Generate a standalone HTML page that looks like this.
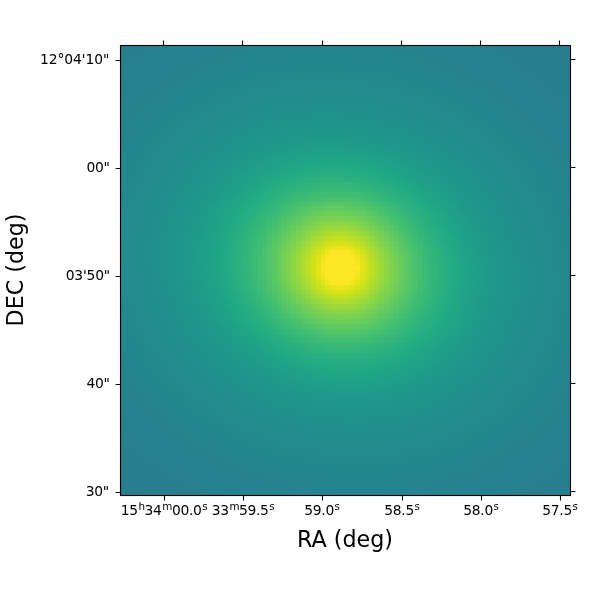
<!DOCTYPE html>
<html lang="en"><head><meta charset="utf-8"><title>RA / DEC image</title>
<style>
html,body{margin:0;padding:0;background:#fff;}
body{width:600px;height:600px;overflow:hidden;}
svg{display:block;}
text{font-family:"DejaVu Sans","Liberation Sans",sans-serif;fill:#000;}
.sup{font-size:10.4px;letter-spacing:0;}
</style></head><body>
<svg width="600" height="600" viewBox="0 0 600 600">
<rect width="600" height="600" fill="#fff"/>
<rect x="120" y="45" width="450" height="450" fill="#26818e"/>
<g transform="translate(120 45)" shape-rendering="crispEdges">
<path fill="#287d8e" d="M426 0h24v5h-24zM435 5h15v5h-15zM440 10h10v5h-10zM445 15h5v5h-5zM0 435h5v5h-5zM0 440h15v5h-15zM0 445h20v5h-20z"/>
<path fill="#277e8e" d="M401 0h25v5h-25zM411 5h24v5h-24zM416 10h24v5h-24zM421 15h24v5h-24zM430 20h20v4h-20zM435 24h15v5h-15zM440 29h10v5h-10zM445 34h5v5h-5zM0 416h5v5h-5zM0 421h10v5h-10zM0 426h20v4h-20zM0 430h24v5h-24zM5 435h24v5h-24zM15 440h24v5h-24zM440 440h10v5h-10zM20 445h24v5h-24zM435 445h15v5h-15z"/>
<path fill="#277f8e" d="M0 0h24v5h-24zM377 0h24v5h-24zM0 5h15v5h-15zM386 5h25v5h-25zM0 10h10v5h-10zM391 10h25v5h-25zM401 15h20v5h-20zM406 20h24v4h-24zM416 24h19v5h-19zM421 29h19v5h-19zM426 34h19v5h-19zM430 39h20v5h-20zM435 44h15v5h-15zM445 49h5v5h-5zM0 396h5v5h-5zM0 401h10v5h-10zM0 406h15v5h-15zM0 411h20v5h-20zM5 416h19v5h-19zM10 421h24v5h-24zM445 421h5v5h-5zM20 426h19v4h-19zM440 426h10v4h-10zM24 430h25v5h-25zM430 430h20v5h-20zM29 435h25v5h-25zM426 435h24v5h-24zM39 440h25v5h-25zM416 440h24v5h-24zM44 445h29v5h-29zM411 445h24v5h-24z"/>
<path fill="#27808e" d="M24 0h20v5h-20zM352 0h25v5h-25zM15 5h24v5h-24zM362 5h24v5h-24zM10 10h19v5h-19zM372 10h19v5h-19zM0 15h24v5h-24zM382 15h19v5h-19zM0 20h15v4h-15zM386 20h20v4h-20zM0 24h10v5h-10zM396 24h20v5h-20zM0 29h5v5h-5zM401 29h20v5h-20zM411 34h15v5h-15zM416 39h14v5h-14zM421 44h14v5h-14zM426 49h19v5h-19zM430 54h20v5h-20zM435 59h15v5h-15zM440 64h10v4h-10zM445 68h5v5h-5zM0 382h5v4h-5zM0 386h10v5h-10zM0 391h15v5h-15zM5 396h15v5h-15zM10 401h14v5h-14zM445 401h5v5h-5zM15 406h14v5h-14zM440 406h10v5h-10zM20 411h19v5h-19zM435 411h15v5h-15zM24 416h20v5h-20zM430 416h20v5h-20zM34 421h20v5h-20zM426 421h19v5h-19zM39 426h20v4h-20zM416 426h24v4h-24zM49 430h19v5h-19zM411 430h19v5h-19zM54 435h24v5h-24zM401 435h25v5h-25zM64 440h24v5h-24zM396 440h20v5h-20zM73 445h25v5h-25zM386 445h25v5h-25z"/>
<path fill="#26818e" d="M44 0h24v5h-24zM333 0h19v5h-19zM39 5h20v5h-20zM342 5h20v5h-20zM29 10h20v5h-20zM352 10h20v5h-20zM24 15h20v5h-20zM362 15h20v5h-20zM15 20h19v4h-19zM372 20h14v4h-14zM10 24h19v5h-19zM377 24h19v5h-19zM5 29h15v5h-15zM386 29h15v5h-15zM0 34h15v5h-15zM391 34h20v5h-20zM0 39h10v5h-10zM396 39h20v5h-20zM0 44h5v5h-5zM406 44h15v5h-15zM411 49h15v5h-15zM416 54h14v5h-14zM421 59h14v5h-14zM426 64h14v4h-14zM430 68h15v5h-15zM435 73h15v5h-15zM440 78h10v5h-10zM445 83h5v5h-5zM0 367h5v5h-5zM0 372h10v5h-10zM0 377h15v5h-15zM5 382h15v4h-15zM10 386h14v5h-14zM445 386h5v5h-5zM15 391h14v5h-14zM440 391h10v5h-10zM20 396h14v5h-14zM435 396h15v5h-15zM24 401h20v5h-20zM430 401h15v5h-15zM29 406h20v5h-20zM426 406h14v5h-14zM39 411h15v5h-15zM421 411h14v5h-14zM44 416h20v5h-20zM411 416h19v5h-19zM54 421h14v5h-14zM406 421h20v5h-20zM59 426h19v4h-19zM396 426h20v4h-20zM68 430h20v5h-20zM391 430h20v5h-20zM78 435h20v5h-20zM382 435h19v5h-19zM88 440h20v5h-20zM372 440h24v5h-24zM98 445h24v5h-24zM362 445h24v5h-24z"/>
<path fill="#26828e" d="M68 0h25v5h-25zM308 0h25v5h-25zM59 5h24v5h-24zM318 5h24v5h-24zM49 10h19v5h-19zM333 10h19v5h-19zM44 15h15v5h-15zM342 15h20v5h-20zM34 20h20v4h-20zM352 20h20v4h-20zM29 24h15v5h-15zM362 24h15v5h-15zM20 29h19v5h-19zM367 29h19v5h-19zM15 34h14v5h-14zM377 34h14v5h-14zM10 39h14v5h-14zM382 39h14v5h-14zM5 44h15v5h-15zM391 44h15v5h-15zM0 49h15v5h-15zM396 49h15v5h-15zM0 54h10v5h-10zM401 54h15v5h-15zM0 59h5v5h-5zM406 59h15v5h-15zM416 64h10v4h-10zM421 68h9v5h-9zM426 73h9v5h-9zM430 78h10v5h-10zM430 83h15v5h-15zM435 88h15v5h-15zM440 93h10v5h-10zM445 98h5v5h-5zM0 352h5v5h-5zM0 357h10v5h-10zM0 362h10v5h-10zM5 367h10v5h-10zM10 372h10v5h-10zM445 372h5v5h-5zM15 377h9v5h-9zM440 377h10v5h-10zM20 382h14v4h-14zM435 382h15v4h-15zM24 386h15v5h-15zM430 386h15v5h-15zM29 391h15v5h-15zM426 391h14v5h-14zM34 396h15v5h-15zM421 396h14v5h-14zM44 401h15v5h-15zM416 401h14v5h-14zM49 406h15v5h-15zM411 406h15v5h-15zM54 411h19v5h-19zM401 411h20v5h-20zM64 416h14v5h-14zM396 416h15v5h-15zM68 421h20v5h-20zM386 421h20v5h-20zM78 426h20v4h-20zM382 426h14v4h-14zM88 430h20v5h-20zM372 430h19v5h-19zM98 435h24v5h-24zM357 435h25v5h-25zM108 440h24v5h-24zM347 440h25v5h-25zM122 445h25v5h-25zM333 445h29v5h-29z"/>
<path fill="#26828e" d="M93 0h24v5h-24zM284 0h24v5h-24zM83 5h20v5h-20zM298 5h20v5h-20zM68 10h20v5h-20zM313 10h20v5h-20zM59 15h19v5h-19zM323 15h19v5h-19zM54 20h14v4h-14zM333 20h19v4h-19zM44 24h15v5h-15zM342 24h20v5h-20zM39 29h15v5h-15zM352 29h15v5h-15zM29 34h15v5h-15zM362 34h15v5h-15zM24 39h15v5h-15zM372 39h10v5h-10zM20 44h9v5h-9zM377 44h14v5h-14zM15 49h9v5h-9zM382 49h14v5h-14zM10 54h10v5h-10zM391 54h10v5h-10zM5 59h10v5h-10zM396 59h10v5h-10zM0 64h10v4h-10zM401 64h15v4h-15zM0 68h5v5h-5zM406 68h15v5h-15zM411 73h15v5h-15zM416 78h14v5h-14zM421 83h9v5h-9zM426 88h9v5h-9zM430 93h10v5h-10zM435 98h10v5h-10zM440 103h10v5h-10zM440 108h10v4h-10zM445 112h5v5h-5zM0 342h5v5h-5zM0 347h10v5h-10zM5 352h10v5h-10zM10 357h10v5h-10zM445 357h5v5h-5zM10 362h14v5h-14zM445 362h5v5h-5zM15 367h14v5h-14zM440 367h10v5h-10zM20 372h14v5h-14zM435 372h10v5h-10zM24 377h15v5h-15zM430 377h10v5h-10zM34 382h10v4h-10zM426 382h9v4h-9zM39 386h10v5h-10zM421 386h9v5h-9zM44 391h15v5h-15zM416 391h10v5h-10zM49 396h15v5h-15zM411 396h10v5h-10zM59 401h9v5h-9zM401 401h15v5h-15zM64 406h14v5h-14zM396 406h15v5h-15zM73 411h15v5h-15zM386 411h15v5h-15zM78 416h20v5h-20zM382 416h14v5h-14zM88 421h20v5h-20zM372 421h14v5h-14zM98 426h19v4h-19zM362 426h20v4h-20zM108 430h19v5h-19zM352 430h20v5h-20zM122 435h20v5h-20zM338 435h19v5h-19zM132 440h25v5h-25zM323 440h24v5h-24zM147 445h29v5h-29zM303 445h30v5h-30z"/>
<path fill="#25838e" d="M117 0h30v5h-30zM254 0h30v5h-30zM103 5h24v5h-24zM274 5h24v5h-24zM88 10h24v5h-24zM293 10h20v5h-20zM78 15h20v5h-20zM308 15h15v5h-15zM68 20h15v4h-15zM318 20h15v4h-15zM59 24h14v5h-14zM328 24h14v5h-14zM54 29h14v5h-14zM338 29h14v5h-14zM44 34h15v5h-15zM347 34h15v5h-15zM39 39h10v5h-10zM357 39h15v5h-15zM29 44h15v5h-15zM367 44h10v5h-10zM24 49h15v5h-15zM372 49h10v5h-10zM20 54h9v5h-9zM377 54h14v5h-14zM15 59h9v5h-9zM386 59h10v5h-10zM10 64h10v4h-10zM391 64h10v4h-10zM5 68h10v5h-10zM396 68h10v5h-10zM0 73h10v5h-10zM401 73h10v5h-10zM0 78h5v5h-5zM406 78h10v5h-10zM0 83h5v5h-5zM411 83h10v5h-10zM416 88h10v5h-10zM421 93h9v5h-9zM426 98h9v5h-9zM430 103h10v5h-10zM435 108h5v4h-5zM435 112h10v5h-10zM440 117h10v5h-10zM445 122h5v5h-5zM445 127h5v5h-5zM0 328h5v5h-5zM0 333h5v5h-5zM0 338h10v4h-10zM5 342h10v5h-10zM10 347h10v5h-10zM445 347h5v5h-5zM15 352h9v5h-9zM440 352h10v5h-10zM20 357h9v5h-9zM435 357h10v5h-10zM24 362h10v5h-10zM435 362h10v5h-10zM29 367h10v5h-10zM430 367h10v5h-10zM34 372h10v5h-10zM426 372h9v5h-9zM39 377h10v5h-10zM421 377h9v5h-9zM44 382h10v4h-10zM416 382h10v4h-10zM49 386h15v5h-15zM411 386h10v5h-10zM59 391h9v5h-9zM401 391h15v5h-15zM64 396h9v5h-9zM396 396h15v5h-15zM68 401h15v5h-15zM391 401h10v5h-10zM78 406h15v5h-15zM382 406h14v5h-14zM88 411h15v5h-15zM372 411h14v5h-14zM98 416h14v5h-14zM367 416h15v5h-15zM108 421h14v5h-14zM357 421h15v5h-15zM117 426h15v4h-15zM342 426h20v4h-20zM127 430h20v5h-20zM328 430h24v5h-24zM142 435h24v5h-24zM313 435h25v5h-25zM157 440h29v5h-29zM293 440h30v5h-30zM176 445h127v5h-127z"/>
<path fill="#25848e" d="M147 0h107v5h-107zM127 5h30v5h-30zM245 5h29v5h-29zM112 10h20v5h-20zM269 10h24v5h-24zM98 15h19v5h-19zM289 15h19v5h-19zM83 20h20v4h-20zM303 20h15v4h-15zM73 24h20v5h-20zM313 24h15v5h-15zM68 29h15v5h-15zM323 29h15v5h-15zM59 34h14v5h-14zM333 34h14v5h-14zM49 39h15v5h-15zM342 39h15v5h-15zM44 44h10v5h-10zM352 44h15v5h-15zM39 49h10v5h-10zM362 49h10v5h-10zM29 54h15v5h-15zM367 54h10v5h-10zM24 59h10v5h-10zM377 59h9v5h-9zM20 64h9v4h-9zM382 64h9v4h-9zM15 68h9v5h-9zM386 68h10v5h-10zM10 73h10v5h-10zM391 73h10v5h-10zM5 78h10v5h-10zM396 78h10v5h-10zM5 83h10v5h-10zM401 83h10v5h-10zM0 88h10v5h-10zM406 88h10v5h-10zM0 93h5v5h-5zM411 93h10v5h-10zM416 98h10v5h-10zM421 103h9v5h-9zM426 108h9v4h-9zM430 112h5v5h-5zM430 117h10v5h-10zM435 122h10v5h-10zM440 127h5v5h-5zM440 132h10v5h-10zM445 137h5v5h-5zM445 142h5v5h-5zM0 318h5v5h-5zM0 323h10v5h-10zM5 328h5v5h-5zM5 333h10v5h-10zM445 333h5v5h-5zM10 338h10v4h-10zM440 338h10v4h-10zM15 342h9v5h-9zM440 342h10v5h-10zM20 347h9v5h-9zM435 347h10v5h-10zM24 352h10v5h-10zM430 352h10v5h-10zM29 357h10v5h-10zM426 357h9v5h-9zM34 362h10v5h-10zM426 362h9v5h-9zM39 367h10v5h-10zM421 367h9v5h-9zM44 372h10v5h-10zM416 372h10v5h-10zM49 377h10v5h-10zM411 377h10v5h-10zM54 382h10v4h-10zM406 382h10v4h-10zM64 386h9v5h-9zM396 386h15v5h-15zM68 391h10v5h-10zM391 391h10v5h-10zM73 396h15v5h-15zM386 396h10v5h-10zM83 401h15v5h-15zM377 401h14v5h-14zM93 406h15v5h-15zM367 406h15v5h-15zM103 411h14v5h-14zM357 411h15v5h-15zM112 416h15v5h-15zM347 416h20v5h-20zM122 421h15v5h-15zM338 421h19v5h-19zM132 426h20v4h-20zM323 426h19v4h-19zM147 430h24v5h-24zM308 430h20v5h-20zM166 435h30v5h-30zM284 435h29v5h-29zM186 440h107v5h-107z"/>
<path fill="#25858e" d="M157 5h88v5h-88zM132 10h34v5h-34zM235 10h34v5h-34zM117 15h25v5h-25zM264 15h25v5h-25zM103 20h19v4h-19zM284 20h19v4h-19zM93 24h15v5h-15zM298 24h15v5h-15zM83 29h15v5h-15zM308 29h15v5h-15zM73 34h10v5h-10zM323 34h10v5h-10zM64 39h14v5h-14zM333 39h9v5h-9zM54 44h14v5h-14zM342 44h10v5h-10zM49 49h10v5h-10zM347 49h15v5h-15zM44 54h10v5h-10zM357 54h10v5h-10zM34 59h15v5h-15zM362 59h15v5h-15zM29 64h10v4h-10zM372 64h10v4h-10zM24 68h10v5h-10zM377 68h9v5h-9zM20 73h9v5h-9zM382 73h9v5h-9zM15 78h9v5h-9zM386 78h10v5h-10zM15 83h5v5h-5zM396 83h5v5h-5zM10 88h10v5h-10zM401 88h5v5h-5zM5 93h10v5h-10zM406 93h5v5h-5zM0 98h10v5h-10zM406 98h10v5h-10zM0 103h5v5h-5zM411 103h10v5h-10zM0 108h5v4h-5zM416 108h10v4h-10zM421 112h9v5h-9zM426 117h4v5h-4zM426 122h9v5h-9zM430 127h10v5h-10zM435 132h5v5h-5zM435 137h10v5h-10zM440 142h5v5h-5zM440 147h10v5h-10zM445 152h5v5h-5zM445 157h5v4h-5zM0 303h5v5h-5zM0 308h5v5h-5zM0 313h10v5h-10zM5 318h10v5h-10zM445 318h5v5h-5zM10 323h5v5h-5zM445 323h5v5h-5zM10 328h10v5h-10zM440 328h10v5h-10zM15 333h9v5h-9zM435 333h10v5h-10zM20 338h9v4h-9zM435 338h5v4h-5zM24 342h10v5h-10zM430 342h10v5h-10zM29 347h5v5h-5zM426 347h9v5h-9zM34 352h5v5h-5zM421 352h9v5h-9zM39 357h5v5h-5zM421 357h5v5h-5zM44 362h10v5h-10zM416 362h10v5h-10zM49 367h10v5h-10zM411 367h10v5h-10zM54 372h10v5h-10zM406 372h10v5h-10zM59 377h9v5h-9zM401 377h10v5h-10zM64 382h14v4h-14zM391 382h15v4h-15zM73 386h10v5h-10zM386 386h10v5h-10zM78 391h15v5h-15zM382 391h9v5h-9zM88 396h10v5h-10zM372 396h14v5h-14zM98 401h10v5h-10zM362 401h15v5h-15zM108 406h9v5h-9zM357 406h10v5h-10zM117 411h15v5h-15zM342 411h15v5h-15zM127 416h15v5h-15zM333 416h14v5h-14zM137 421h20v5h-20zM318 421h20v5h-20zM152 426h24v4h-24zM298 426h25v4h-25zM171 430h34v5h-34zM274 430h34v5h-34zM196 435h88v5h-88z"/>
<path fill="#24868e" d="M166 10h69v5h-69zM142 15h34v5h-34zM225 15h39v5h-39zM122 20h25v4h-25zM259 20h25v4h-25zM108 24h19v5h-19zM279 24h19v5h-19zM98 29h14v5h-14zM293 29h15v5h-15zM83 34h15v5h-15zM308 34h15v5h-15zM78 39h10v5h-10zM318 39h15v5h-15zM68 44h10v5h-10zM328 44h14v5h-14zM59 49h14v5h-14zM338 49h9v5h-9zM54 54h10v5h-10zM347 54h10v5h-10zM49 59h10v5h-10zM352 59h10v5h-10zM39 64h10v4h-10zM362 64h10v4h-10zM34 68h10v5h-10zM367 68h10v5h-10zM29 73h10v5h-10zM372 73h10v5h-10zM24 78h10v5h-10zM382 78h4v5h-4zM20 83h9v5h-9zM386 83h10v5h-10zM20 88h4v5h-4zM391 88h10v5h-10zM15 93h5v5h-5zM396 93h10v5h-10zM10 98h10v5h-10zM401 98h5v5h-5zM5 103h10v5h-10zM406 103h5v5h-5zM5 108h5v4h-5zM411 108h5v4h-5zM0 112h10v5h-10zM411 112h10v5h-10zM0 117h5v5h-5zM416 117h10v5h-10zM0 122h5v5h-5zM421 122h5v5h-5zM426 127h4v5h-4zM426 132h9v5h-9zM430 137h5v5h-5zM430 142h10v5h-10zM435 147h5v5h-5zM435 152h10v5h-10zM440 157h5v4h-5zM440 161h10v5h-10zM445 166h5v5h-5zM445 171h5v5h-5zM0 289h5v4h-5zM0 293h5v5h-5zM0 298h10v5h-10zM445 298h5v5h-5zM5 303h5v5h-5zM445 303h5v5h-5zM5 308h10v5h-10zM440 308h10v5h-10zM10 313h5v5h-5zM440 313h10v5h-10zM15 318h5v5h-5zM435 318h10v5h-10zM15 323h9v5h-9zM435 323h10v5h-10zM20 328h9v5h-9zM430 328h10v5h-10zM24 333h5v5h-5zM430 333h5v5h-5zM29 338h5v4h-5zM426 338h9v4h-9zM34 342h5v5h-5zM421 342h9v5h-9zM34 347h10v5h-10zM421 347h5v5h-5zM39 352h10v5h-10zM416 352h5v5h-5zM44 357h10v5h-10zM411 357h10v5h-10zM54 362h5v5h-5zM406 362h10v5h-10zM59 367h9v5h-9zM401 367h10v5h-10zM64 372h9v5h-9zM396 372h10v5h-10zM68 377h10v5h-10zM391 377h10v5h-10zM78 382h10v4h-10zM382 382h9v4h-9zM83 386h10v5h-10zM377 386h9v5h-9zM93 391h10v5h-10zM367 391h15v5h-15zM98 396h14v5h-14zM362 396h10v5h-10zM108 401h14v5h-14zM352 401h10v5h-10zM117 406h15v5h-15zM342 406h15v5h-15zM132 411h15v5h-15zM328 411h14v5h-14zM142 416h19v5h-19zM313 416h20v5h-20zM157 421h24v5h-24zM293 421h25v5h-25zM176 426h39v4h-39zM264 426h34v4h-34zM205 430h69v5h-69z"/>
<path fill="#24878e" d="M176 15h49v5h-49zM147 20h49v4h-49zM210 20h49v4h-49zM127 24h25v5h-25zM254 24h25v5h-25zM112 29h20v5h-20zM274 29h19v5h-19zM98 34h19v5h-19zM289 34h19v5h-19zM88 39h15v5h-15zM303 39h15v5h-15zM78 44h15v5h-15zM313 44h15v5h-15zM73 49h10v5h-10zM323 49h15v5h-15zM64 54h14v5h-14zM333 54h14v5h-14zM59 59h9v5h-9zM342 59h10v5h-10zM49 64h15v4h-15zM352 64h10v4h-10zM44 68h10v5h-10zM357 68h10v5h-10zM39 73h10v5h-10zM362 73h10v5h-10zM34 78h10v5h-10zM372 78h10v5h-10zM29 83h10v5h-10zM377 83h9v5h-9zM24 88h10v5h-10zM382 88h9v5h-9zM20 93h9v5h-9zM386 93h10v5h-10zM20 98h4v5h-4zM391 98h10v5h-10zM15 103h9v5h-9zM396 103h10v5h-10zM10 108h10v4h-10zM401 108h10v4h-10zM10 112h5v5h-5zM406 112h5v5h-5zM5 117h10v5h-10zM411 117h5v5h-5zM5 122h5v5h-5zM411 122h10v5h-10zM0 127h10v5h-10zM416 127h10v5h-10zM0 132h5v5h-5zM421 132h5v5h-5zM0 137h5v5h-5zM421 137h9v5h-9zM426 142h4v5h-4zM426 147h9v5h-9zM430 152h5v5h-5zM435 157h5v4h-5zM435 161h5v5h-5zM435 166h10v5h-10zM440 171h5v5h-5zM440 176h10v5h-10zM440 181h10v5h-10zM445 186h5v5h-5zM445 191h5v5h-5zM445 196h5v5h-5zM0 274h5v5h-5zM445 274h5v5h-5zM0 279h5v5h-5zM445 279h5v5h-5zM0 284h5v5h-5zM445 284h5v5h-5zM5 289h5v4h-5zM445 289h5v4h-5zM5 293h10v5h-10zM440 293h10v5h-10zM10 298h5v5h-5zM440 298h5v5h-5zM10 303h10v5h-10zM435 303h10v5h-10zM15 308h5v5h-5zM435 308h5v5h-5zM15 313h9v5h-9zM430 313h10v5h-10zM20 318h9v5h-9zM430 318h5v5h-5zM24 323h5v5h-5zM426 323h9v5h-9zM29 328h5v5h-5zM426 328h4v5h-4zM29 333h10v5h-10zM421 333h9v5h-9zM34 338h10v4h-10zM416 338h10v4h-10zM39 342h10v5h-10zM416 342h5v5h-5zM44 347h10v5h-10zM411 347h10v5h-10zM49 352h10v5h-10zM406 352h10v5h-10zM54 357h10v5h-10zM401 357h10v5h-10zM59 362h9v5h-9zM396 362h10v5h-10zM68 367h10v5h-10zM391 367h10v5h-10zM73 372h10v5h-10zM386 372h10v5h-10zM78 377h10v5h-10zM377 377h14v5h-14zM88 382h10v4h-10zM372 382h10v4h-10zM93 386h15v5h-15zM362 386h15v5h-15zM103 391h14v5h-14zM357 391h10v5h-10zM112 396h15v5h-15zM347 396h15v5h-15zM122 401h15v5h-15zM338 401h14v5h-14zM132 406h20v5h-20zM323 406h19v5h-19zM147 411h19v5h-19zM308 411h20v5h-20zM161 416h25v5h-25zM289 416h24v5h-24zM181 421h49v5h-49zM245 421h48v5h-48zM215 426h49v4h-49z"/>
<path fill="#23888e" d="M196 20h14v4h-14zM152 24h102v5h-102zM132 29h25v5h-25zM249 29h25v5h-25zM117 34h20v5h-20zM269 34h20v5h-20zM103 39h19v5h-19zM289 39h14v5h-14zM93 44h15v5h-15zM298 44h15v5h-15zM83 49h15v5h-15zM313 49h10v5h-10zM78 54h10v5h-10zM323 54h10v5h-10zM68 59h10v5h-10zM333 59h9v5h-9zM64 64h9v4h-9zM338 64h14v4h-14zM54 68h10v5h-10zM347 68h10v5h-10zM49 73h10v5h-10zM352 73h10v5h-10zM44 78h10v5h-10zM362 78h10v5h-10zM39 83h10v5h-10zM367 83h10v5h-10zM34 88h10v5h-10zM372 88h10v5h-10zM29 93h10v5h-10zM377 93h9v5h-9zM24 98h10v5h-10zM382 98h9v5h-9zM24 103h5v5h-5zM386 103h10v5h-10zM20 108h9v4h-9zM391 108h10v4h-10zM15 112h9v5h-9zM396 112h10v5h-10zM15 117h5v5h-5zM401 117h10v5h-10zM10 122h10v5h-10zM406 122h5v5h-5zM10 127h5v5h-5zM411 127h5v5h-5zM5 132h10v5h-10zM411 132h10v5h-10zM5 137h5v5h-5zM416 137h5v5h-5zM0 142h10v5h-10zM416 142h10v5h-10zM0 147h5v5h-5zM421 147h5v5h-5zM0 152h5v5h-5zM426 152h4v5h-4zM0 157h5v4h-5zM426 157h9v4h-9zM430 161h5v5h-5zM430 166h5v5h-5zM430 171h10v5h-10zM435 176h5v5h-5zM435 181h5v5h-5zM435 186h10v5h-10zM440 191h5v5h-5zM440 196h5v5h-5zM440 201h10v4h-10zM440 205h10v5h-10zM445 210h5v5h-5zM445 215h5v5h-5zM445 220h5v5h-5zM445 225h5v5h-5zM445 230h5v5h-5zM445 235h5v5h-5zM445 240h5v5h-5zM445 245h5v4h-5zM445 249h5v5h-5zM0 254h5v5h-5zM445 254h5v5h-5zM0 259h5v5h-5zM445 259h5v5h-5zM0 264h5v5h-5zM440 264h10v5h-10zM0 269h10v5h-10zM440 269h10v5h-10zM5 274h5v5h-5zM440 274h5v5h-5zM5 279h5v5h-5zM440 279h5v5h-5zM5 284h10v5h-10zM435 284h10v5h-10zM10 289h5v4h-5zM435 289h10v4h-10zM15 293h5v5h-5zM435 293h5v5h-5zM15 298h9v5h-9zM430 298h10v5h-10zM20 303h4v5h-4zM430 303h5v5h-5zM20 308h9v5h-9zM426 308h9v5h-9zM24 313h5v5h-5zM426 313h4v5h-4zM29 318h5v5h-5zM421 318h9v5h-9zM29 323h10v5h-10zM421 323h5v5h-5zM34 328h10v5h-10zM416 328h10v5h-10zM39 333h10v5h-10zM411 333h10v5h-10zM44 338h10v4h-10zM411 338h5v4h-5zM49 342h10v5h-10zM406 342h10v5h-10zM54 347h10v5h-10zM401 347h10v5h-10zM59 352h9v5h-9zM396 352h10v5h-10zM64 357h9v5h-9zM391 357h10v5h-10zM68 362h10v5h-10zM386 362h10v5h-10zM78 367h10v5h-10zM382 367h9v5h-9zM83 372h10v5h-10zM377 372h9v5h-9zM88 377h15v5h-15zM367 377h10v5h-10zM98 382h10v4h-10zM362 382h10v4h-10zM108 386h9v5h-9zM352 386h10v5h-10zM117 391h10v5h-10zM342 391h15v5h-15zM127 396h15v5h-15zM333 396h14v5h-14zM137 401h15v5h-15zM318 401h20v5h-20zM152 406h19v5h-19zM303 406h20v5h-20zM166 411h25v5h-25zM284 411h24v5h-24zM186 416h103v5h-103zM230 421h15v5h-15z"/>
<path fill="#23898e" d="M157 29h92v5h-92zM137 34h24v5h-24zM245 34h24v5h-24zM122 39h20v5h-20zM269 39h20v5h-20zM108 44h14v5h-14zM284 44h14v5h-14zM98 49h14v5h-14zM298 49h15v5h-15zM88 54h15v5h-15zM308 54h15v5h-15zM78 59h15v5h-15zM318 59h15v5h-15zM73 64h10v4h-10zM328 64h10v4h-10zM64 68h14v5h-14zM338 68h9v5h-9zM59 73h9v5h-9zM342 73h10v5h-10zM54 78h10v5h-10zM352 78h10v5h-10zM49 83h10v5h-10zM357 83h10v5h-10zM44 88h10v5h-10zM362 88h10v5h-10zM39 93h10v5h-10zM372 93h5v5h-5zM34 98h10v5h-10zM377 98h5v5h-5zM29 103h10v5h-10zM382 103h4v5h-4zM29 108h5v4h-5zM386 108h5v4h-5zM24 112h5v5h-5zM391 112h5v5h-5zM20 117h9v5h-9zM391 117h10v5h-10zM20 122h4v5h-4zM396 122h10v5h-10zM15 127h9v5h-9zM401 127h10v5h-10zM15 132h5v5h-5zM406 132h5v5h-5zM10 137h10v5h-10zM406 137h10v5h-10zM10 142h5v5h-5zM411 142h5v5h-5zM5 147h10v5h-10zM416 147h5v5h-5zM5 152h5v5h-5zM416 152h10v5h-10zM5 157h5v4h-5zM421 157h5v4h-5zM0 161h10v5h-10zM421 161h9v5h-9zM0 166h5v5h-5zM426 166h4v5h-4zM0 171h5v5h-5zM426 171h4v5h-4zM0 176h5v5h-5zM426 176h9v5h-9zM0 181h5v5h-5zM430 181h5v5h-5zM0 186h5v5h-5zM430 186h5v5h-5zM0 191h5v5h-5zM430 191h10v5h-10zM435 196h5v5h-5zM435 201h5v4h-5zM435 205h5v5h-5zM435 210h10v5h-10zM435 215h10v5h-10zM0 220h5v5h-5zM435 220h10v5h-10zM0 225h5v5h-5zM440 225h5v5h-5zM0 230h5v5h-5zM440 230h5v5h-5zM0 235h5v5h-5zM440 235h5v5h-5zM0 240h5v5h-5zM440 240h5v5h-5zM0 245h5v4h-5zM440 245h5v4h-5zM0 249h10v5h-10zM435 249h10v5h-10zM5 254h5v5h-5zM435 254h10v5h-10zM5 259h5v5h-5zM435 259h10v5h-10zM5 264h10v5h-10zM435 264h5v5h-5zM10 269h5v5h-5zM435 269h5v5h-5zM10 274h5v5h-5zM435 274h5v5h-5zM10 279h10v5h-10zM430 279h10v5h-10zM15 284h5v5h-5zM430 284h5v5h-5zM15 289h9v4h-9zM430 289h5v4h-5zM20 293h4v5h-4zM426 293h9v5h-9zM24 298h5v5h-5zM426 298h4v5h-4zM24 303h10v5h-10zM421 303h9v5h-9zM29 308h5v5h-5zM421 308h5v5h-5zM29 313h10v5h-10zM416 313h10v5h-10zM34 318h10v5h-10zM416 318h5v5h-5zM39 323h10v5h-10zM411 323h10v5h-10zM44 328h5v5h-5zM411 328h5v5h-5zM49 333h5v5h-5zM406 333h5v5h-5zM54 338h5v4h-5zM401 338h10v4h-10zM59 342h5v5h-5zM396 342h10v5h-10zM64 347h4v5h-4zM391 347h10v5h-10zM68 352h10v5h-10zM386 352h10v5h-10zM73 357h10v5h-10zM382 357h9v5h-9zM78 362h10v5h-10zM377 362h9v5h-9zM88 367h10v5h-10zM372 367h10v5h-10zM93 372h10v5h-10zM362 372h15v5h-15zM103 377h9v5h-9zM357 377h10v5h-10zM108 382h14v4h-14zM347 382h15v4h-15zM117 386h15v5h-15zM338 386h14v5h-14zM127 391h15v5h-15zM328 391h14v5h-14zM142 396h15v5h-15zM318 396h15v5h-15zM152 401h19v5h-19zM298 401h20v5h-20zM171 406h25v5h-25zM279 406h24v5h-24zM191 411h93v5h-93z"/>
<path fill="#238a8d" d="M161 34h84v5h-84zM142 39h24v5h-24zM240 39h29v5h-29zM122 44h20v5h-20zM264 44h20v5h-20zM112 49h15v5h-15zM279 49h19v5h-19zM103 54h14v5h-14zM293 54h15v5h-15zM93 59h10v5h-10zM308 59h10v5h-10zM83 64h15v4h-15zM318 64h10v4h-10zM78 68h10v5h-10zM328 68h10v5h-10zM68 73h10v5h-10zM333 73h9v5h-9zM64 78h9v5h-9zM342 78h10v5h-10zM59 83h9v5h-9zM347 83h10v5h-10zM54 88h10v5h-10zM357 88h5v5h-5zM49 93h10v5h-10zM362 93h10v5h-10zM44 98h10v5h-10zM367 98h10v5h-10zM39 103h10v5h-10zM372 103h10v5h-10zM34 108h10v4h-10zM377 108h9v4h-9zM29 112h10v5h-10zM382 112h9v5h-9zM29 117h5v5h-5zM386 117h5v5h-5zM24 122h10v5h-10zM391 122h5v5h-5zM24 127h5v5h-5zM391 127h10v5h-10zM20 132h9v5h-9zM396 132h10v5h-10zM20 137h4v5h-4zM401 137h5v5h-5zM15 142h9v5h-9zM406 142h5v5h-5zM15 147h5v5h-5zM406 147h10v5h-10zM10 152h10v5h-10zM411 152h5v5h-5zM10 157h5v4h-5zM411 157h10v4h-10zM10 161h5v5h-5zM416 161h5v5h-5zM5 166h10v5h-10zM416 166h10v5h-10zM5 171h10v5h-10zM421 171h5v5h-5zM5 176h5v5h-5zM421 176h5v5h-5zM5 181h5v5h-5zM421 181h9v5h-9zM5 186h5v5h-5zM426 186h4v5h-4zM5 191h5v5h-5zM426 191h4v5h-4zM0 196h10v5h-10zM426 196h9v5h-9zM0 201h10v4h-10zM430 201h5v4h-5zM0 205h10v5h-10zM430 205h5v5h-5zM0 210h10v5h-10zM430 210h5v5h-5zM0 215h10v5h-10zM430 215h5v5h-5zM5 220h5v5h-5zM430 220h5v5h-5zM5 225h5v5h-5zM430 225h10v5h-10zM5 230h5v5h-5zM430 230h10v5h-10zM5 235h5v5h-5zM430 235h10v5h-10zM5 240h5v5h-5zM430 240h10v5h-10zM5 245h10v4h-10zM430 245h10v4h-10zM10 249h5v5h-5zM430 249h5v5h-5zM10 254h5v5h-5zM430 254h5v5h-5zM10 259h10v5h-10zM430 259h5v5h-5zM15 264h5v5h-5zM430 264h5v5h-5zM15 269h5v5h-5zM426 269h9v5h-9zM15 274h9v5h-9zM426 274h9v5h-9zM20 279h4v5h-4zM426 279h4v5h-4zM20 284h9v5h-9zM426 284h4v5h-4zM24 289h5v4h-5zM421 289h9v4h-9zM24 293h10v5h-10zM421 293h5v5h-5zM29 298h5v5h-5zM416 298h10v5h-10zM34 303h5v5h-5zM416 303h5v5h-5zM34 308h10v5h-10zM411 308h10v5h-10zM39 313h10v5h-10zM411 313h5v5h-5zM44 318h5v5h-5zM406 318h10v5h-10zM49 323h5v5h-5zM406 323h5v5h-5zM49 328h10v5h-10zM401 328h10v5h-10zM54 333h10v5h-10zM396 333h10v5h-10zM59 338h9v4h-9zM391 338h10v4h-10zM64 342h9v5h-9zM386 342h10v5h-10zM68 347h10v5h-10zM382 347h9v5h-9zM78 352h5v5h-5zM377 352h9v5h-9zM83 357h10v5h-10zM372 357h10v5h-10zM88 362h10v5h-10zM367 362h10v5h-10zM98 367h10v5h-10zM362 367h10v5h-10zM103 372h9v5h-9zM352 372h10v5h-10zM112 377h10v5h-10zM342 377h15v5h-15zM122 382h10v4h-10zM338 382h9v4h-9zM132 386h15v5h-15zM323 386h15v5h-15zM142 391h19v5h-19zM313 391h15v5h-15zM157 396h19v5h-19zM298 396h20v5h-20zM171 401h30v5h-30zM274 401h24v5h-24zM196 406h83v5h-83z"/>
<path fill="#228b8d" d="M166 39h74v5h-74zM142 44h29v5h-29zM235 44h29v5h-29zM127 49h20v5h-20zM264 49h15v5h-15zM117 54h15v5h-15zM279 54h14v5h-14zM103 59h14v5h-14zM293 59h15v5h-15zM98 64h10v4h-10zM303 64h15v4h-15zM88 68h10v5h-10zM313 68h15v5h-15zM78 73h10v5h-10zM323 73h10v5h-10zM73 78h10v5h-10zM333 78h9v5h-9zM68 83h10v5h-10zM338 83h9v5h-9zM64 88h4v5h-4zM347 88h10v5h-10zM59 93h5v5h-5zM352 93h10v5h-10zM54 98h5v5h-5zM357 98h10v5h-10zM49 103h5v5h-5zM362 103h10v5h-10zM44 108h5v4h-5zM367 108h10v4h-10zM39 112h10v5h-10zM372 112h10v5h-10zM34 117h10v5h-10zM377 117h9v5h-9zM34 122h5v5h-5zM382 122h9v5h-9zM29 127h10v5h-10zM386 127h5v5h-5zM29 132h5v5h-5zM391 132h5v5h-5zM24 137h5v5h-5zM396 137h5v5h-5zM24 142h5v5h-5zM396 142h10v5h-10zM20 147h4v5h-4zM401 147h5v5h-5zM20 152h4v5h-4zM401 152h10v5h-10zM15 157h9v4h-9zM406 157h5v4h-5zM15 161h5v5h-5zM406 161h10v5h-10zM15 166h5v5h-5zM411 166h5v5h-5zM15 171h5v5h-5zM411 171h10v5h-10zM10 176h10v5h-10zM416 176h5v5h-5zM10 181h5v5h-5zM416 181h5v5h-5zM10 186h5v5h-5zM416 186h10v5h-10zM10 191h5v5h-5zM421 191h5v5h-5zM10 196h5v5h-5zM421 196h5v5h-5zM10 201h5v4h-5zM421 201h9v4h-9zM10 205h5v5h-5zM421 205h9v5h-9zM10 210h5v5h-5zM426 210h4v5h-4zM10 215h5v5h-5zM426 215h4v5h-4zM10 220h5v5h-5zM426 220h4v5h-4zM10 225h5v5h-5zM426 225h4v5h-4zM10 230h5v5h-5zM426 230h4v5h-4zM10 235h10v5h-10zM426 235h4v5h-4zM10 240h10v5h-10zM426 240h4v5h-4zM15 245h5v4h-5zM426 245h4v4h-4zM15 249h5v5h-5zM426 249h4v5h-4zM15 254h9v5h-9zM426 254h4v5h-4zM20 259h4v5h-4zM426 259h4v5h-4zM20 264h4v5h-4zM421 264h9v5h-9zM20 269h9v5h-9zM421 269h5v5h-5zM24 274h5v5h-5zM421 274h5v5h-5zM24 279h10v5h-10zM421 279h5v5h-5zM29 284h5v5h-5zM416 284h10v5h-10zM29 289h10v4h-10zM416 289h5v4h-5zM34 293h5v5h-5zM416 293h5v5h-5zM34 298h10v5h-10zM411 298h5v5h-5zM39 303h5v5h-5zM411 303h5v5h-5zM44 308h5v5h-5zM406 308h5v5h-5zM49 313h5v5h-5zM401 313h10v5h-10zM49 318h10v5h-10zM401 318h5v5h-5zM54 323h10v5h-10zM396 323h10v5h-10zM59 328h9v5h-9zM391 328h10v5h-10zM64 333h9v5h-9zM391 333h5v5h-5zM68 338h10v4h-10zM386 338h5v4h-5zM73 342h10v5h-10zM382 342h4v5h-4zM78 347h10v5h-10zM377 347h5v5h-5zM83 352h10v5h-10zM372 352h5v5h-5zM93 357h10v5h-10zM362 357h10v5h-10zM98 362h10v5h-10zM357 362h10v5h-10zM108 367h9v5h-9zM352 367h10v5h-10zM112 372h15v5h-15zM342 372h10v5h-10zM122 377h15v5h-15zM333 377h9v5h-9zM132 382h15v4h-15zM323 382h15v4h-15zM147 386h14v5h-14zM308 386h15v5h-15zM161 391h15v5h-15zM293 391h20v5h-20zM176 396h29v5h-29zM269 396h29v5h-29zM201 401h73v5h-73z"/>
<path fill="#228c8d" d="M171 44h64v5h-64zM147 49h24v5h-24zM235 49h29v5h-29zM132 54h15v5h-15zM259 54h20v5h-20zM117 59h15v5h-15zM279 59h14v5h-14zM108 64h14v4h-14zM293 64h10v4h-10zM98 68h10v5h-10zM303 68h10v5h-10zM88 73h15v5h-15zM313 73h10v5h-10zM83 78h10v5h-10zM323 78h10v5h-10zM78 83h10v5h-10zM328 83h10v5h-10zM68 88h10v5h-10zM338 88h9v5h-9zM64 93h9v5h-9zM342 93h10v5h-10zM59 98h9v5h-9zM352 98h5v5h-5zM54 103h10v5h-10zM357 103h5v5h-5zM49 108h10v4h-10zM362 108h5v4h-5zM49 112h5v5h-5zM367 112h5v5h-5zM44 117h5v5h-5zM372 117h5v5h-5zM39 122h10v5h-10zM377 122h5v5h-5zM39 127h5v5h-5zM382 127h4v5h-4zM34 132h5v5h-5zM382 132h9v5h-9zM29 137h10v5h-10zM386 137h10v5h-10zM29 142h5v5h-5zM391 142h5v5h-5zM24 147h10v5h-10zM396 147h5v5h-5zM24 152h5v5h-5zM396 152h5v5h-5zM24 157h5v4h-5zM401 157h5v4h-5zM20 161h9v5h-9zM401 161h5v5h-5zM20 166h4v5h-4zM406 166h5v5h-5zM20 171h4v5h-4zM406 171h5v5h-5zM20 176h4v5h-4zM411 176h5v5h-5zM15 181h9v5h-9zM411 181h5v5h-5zM15 186h5v5h-5zM411 186h5v5h-5zM15 191h5v5h-5zM416 191h5v5h-5zM15 196h5v5h-5zM416 196h5v5h-5zM15 201h5v4h-5zM416 201h5v4h-5zM15 205h5v5h-5zM416 205h5v5h-5zM15 210h5v5h-5zM416 210h10v5h-10zM15 215h5v5h-5zM421 215h5v5h-5zM15 220h5v5h-5zM421 220h5v5h-5zM15 225h5v5h-5zM421 225h5v5h-5zM15 230h9v5h-9zM421 230h5v5h-5zM20 235h4v5h-4zM421 235h5v5h-5zM20 240h4v5h-4zM421 240h5v5h-5zM20 245h4v4h-4zM421 245h5v4h-5zM20 249h4v5h-4zM421 249h5v5h-5zM24 254h5v5h-5zM421 254h5v5h-5zM24 259h5v5h-5zM416 259h10v5h-10zM24 264h5v5h-5zM416 264h5v5h-5zM29 269h5v5h-5zM416 269h5v5h-5zM29 274h5v5h-5zM416 274h5v5h-5zM34 279h5v5h-5zM411 279h10v5h-10zM34 284h5v5h-5zM411 284h5v5h-5zM39 289h5v4h-5zM411 289h5v4h-5zM39 293h5v5h-5zM406 293h10v5h-10zM44 298h5v5h-5zM406 298h5v5h-5zM44 303h10v5h-10zM401 303h10v5h-10zM49 308h10v5h-10zM401 308h5v5h-5zM54 313h5v5h-5zM396 313h5v5h-5zM59 318h5v5h-5zM391 318h10v5h-10zM64 323h4v5h-4zM391 323h5v5h-5zM68 328h5v5h-5zM386 328h5v5h-5zM73 333h5v5h-5zM382 333h9v5h-9zM78 338h5v4h-5zM377 338h9v4h-9zM83 342h5v5h-5zM372 342h10v5h-10zM88 347h10v5h-10zM367 347h10v5h-10zM93 352h10v5h-10zM362 352h10v5h-10zM103 357h9v5h-9zM352 357h10v5h-10zM108 362h9v5h-9zM347 362h10v5h-10zM117 367h10v5h-10zM338 367h14v5h-14zM127 372h10v5h-10zM333 372h9v5h-9zM137 377h10v5h-10zM318 377h15v5h-15zM147 382h14v4h-14zM308 382h15v4h-15zM161 386h20v5h-20zM293 386h15v5h-15zM176 391h29v5h-29zM269 391h24v5h-24zM205 396h64v5h-64z"/>
<path fill="#228d8d" d="M171 49h64v5h-64zM147 54h24v5h-24zM240 54h19v5h-19zM132 59h20v5h-20zM264 59h15v5h-15zM122 64h10v4h-10zM279 64h14v4h-14zM108 68h14v5h-14zM293 68h10v5h-10zM103 73h9v5h-9zM303 73h10v5h-10zM93 78h10v5h-10zM313 78h10v5h-10zM88 83h5v5h-5zM323 83h5v5h-5zM78 88h10v5h-10zM328 88h10v5h-10zM73 93h10v5h-10zM338 93h4v5h-4zM68 98h5v5h-5zM342 98h10v5h-10zM64 103h4v5h-4zM347 103h10v5h-10zM59 108h5v4h-5zM352 108h10v4h-10zM54 112h10v5h-10zM357 112h10v5h-10zM49 117h10v5h-10zM367 117h5v5h-5zM49 122h5v5h-5zM367 122h10v5h-10zM44 127h5v5h-5zM372 127h10v5h-10zM39 132h10v5h-10zM377 132h5v5h-5zM39 137h5v5h-5zM382 137h4v5h-4zM34 142h5v5h-5zM386 142h5v5h-5zM34 147h5v5h-5zM386 147h10v5h-10zM29 152h10v5h-10zM391 152h5v5h-5zM29 157h5v4h-5zM391 157h10v4h-10zM29 161h5v5h-5zM396 161h5v5h-5zM24 166h5v5h-5zM401 166h5v5h-5zM24 171h5v5h-5zM401 171h5v5h-5zM24 176h5v5h-5zM401 176h10v5h-10zM24 181h5v5h-5zM406 181h5v5h-5zM20 186h9v5h-9zM406 186h5v5h-5zM20 191h4v5h-4zM406 191h10v5h-10zM20 196h4v5h-4zM411 196h5v5h-5zM20 201h4v4h-4zM411 201h5v4h-5zM20 205h4v5h-4zM411 205h5v5h-5zM20 210h4v5h-4zM411 210h5v5h-5zM20 215h4v5h-4zM411 215h10v5h-10zM20 220h4v5h-4zM416 220h5v5h-5zM20 225h9v5h-9zM416 225h5v5h-5zM24 230h5v5h-5zM416 230h5v5h-5zM24 235h5v5h-5zM416 235h5v5h-5zM24 240h5v5h-5zM416 240h5v5h-5zM24 245h5v4h-5zM416 245h5v4h-5zM24 249h10v5h-10zM416 249h5v5h-5zM29 254h5v5h-5zM411 254h10v5h-10zM29 259h5v5h-5zM411 259h5v5h-5zM29 264h10v5h-10zM411 264h5v5h-5zM34 269h5v5h-5zM411 269h5v5h-5zM34 274h5v5h-5zM411 274h5v5h-5zM39 279h5v5h-5zM406 279h5v5h-5zM39 284h10v5h-10zM406 284h5v5h-5zM44 289h5v4h-5zM401 289h10v4h-10zM44 293h10v5h-10zM401 293h5v5h-5zM49 298h5v5h-5zM401 298h5v5h-5zM54 303h5v5h-5zM396 303h5v5h-5zM59 308h5v5h-5zM391 308h10v5h-10zM59 313h9v5h-9zM391 313h5v5h-5zM64 318h9v5h-9zM386 318h5v5h-5zM68 323h5v5h-5zM382 323h9v5h-9zM73 328h10v5h-10zM377 328h9v5h-9zM78 333h10v5h-10zM377 333h5v5h-5zM83 338h10v4h-10zM372 338h5v4h-5zM88 342h10v5h-10zM367 342h5v5h-5zM98 347h5v5h-5zM357 347h10v5h-10zM103 352h9v5h-9zM352 352h10v5h-10zM112 357h5v5h-5zM347 357h5v5h-5zM117 362h10v5h-10zM338 362h9v5h-9zM127 367h10v5h-10zM328 367h10v5h-10zM137 372h10v5h-10zM318 372h15v5h-15zM147 377h14v5h-14zM308 377h10v5h-10zM161 382h15v4h-15zM289 382h19v4h-19zM181 386h20v5h-20zM269 386h24v5h-24zM205 391h64v5h-64z"/>
<path fill="#218e8d" d="M171 54h69v5h-69zM152 59h19v5h-19zM240 59h24v5h-24zM132 64h15v4h-15zM264 64h15v4h-15zM122 68h10v5h-10zM279 68h14v5h-14zM112 73h10v5h-10zM293 73h10v5h-10zM103 78h9v5h-9zM303 78h10v5h-10zM93 83h10v5h-10zM313 83h10v5h-10zM88 88h10v5h-10zM323 88h5v5h-5zM83 93h5v5h-5zM328 93h10v5h-10zM73 98h10v5h-10zM338 98h4v5h-4zM68 103h10v5h-10zM342 103h5v5h-5zM64 108h9v4h-9zM347 108h5v4h-5zM64 112h4v5h-4zM352 112h5v5h-5zM59 117h5v5h-5zM357 117h10v5h-10zM54 122h5v5h-5zM362 122h5v5h-5zM49 127h5v5h-5zM367 127h5v5h-5zM49 132h5v5h-5zM372 132h5v5h-5zM44 137h5v5h-5zM377 137h5v5h-5zM39 142h10v5h-10zM377 142h9v5h-9zM39 147h5v5h-5zM382 147h4v5h-4zM39 152h5v5h-5zM386 152h5v5h-5zM34 157h5v4h-5zM386 157h5v4h-5zM34 161h5v5h-5zM391 161h5v5h-5zM29 166h10v5h-10zM391 166h10v5h-10zM29 171h5v5h-5zM396 171h5v5h-5zM29 176h5v5h-5zM396 176h5v5h-5zM29 181h5v5h-5zM401 181h5v5h-5zM29 186h5v5h-5zM401 186h5v5h-5zM24 191h5v5h-5zM401 191h5v5h-5zM24 196h5v5h-5zM406 196h5v5h-5zM24 201h5v4h-5zM406 201h5v4h-5zM24 205h5v5h-5zM406 205h5v5h-5zM24 210h5v5h-5zM406 210h5v5h-5zM24 215h5v5h-5zM406 215h5v5h-5zM24 220h5v5h-5zM411 220h5v5h-5zM29 225h5v5h-5zM411 225h5v5h-5zM29 230h5v5h-5zM411 230h5v5h-5zM29 235h5v5h-5zM411 235h5v5h-5zM29 240h5v5h-5zM411 240h5v5h-5zM29 245h5v4h-5zM411 245h5v4h-5zM34 249h5v5h-5zM411 249h5v5h-5zM34 254h5v5h-5zM406 254h5v5h-5zM34 259h5v5h-5zM406 259h5v5h-5zM39 264h5v5h-5zM406 264h5v5h-5zM39 269h5v5h-5zM406 269h5v5h-5zM39 274h10v5h-10zM401 274h10v5h-10zM44 279h5v5h-5zM401 279h5v5h-5zM49 284h5v5h-5zM401 284h5v5h-5zM49 289h5v4h-5zM396 289h5v4h-5zM54 293h5v5h-5zM396 293h5v5h-5zM54 298h10v5h-10zM391 298h10v5h-10zM59 303h5v5h-5zM391 303h5v5h-5zM64 308h4v5h-4zM386 308h5v5h-5zM68 313h5v5h-5zM386 313h5v5h-5zM73 318h5v5h-5zM382 318h4v5h-4zM73 323h10v5h-10zM377 323h5v5h-5zM83 328h5v5h-5zM372 328h5v5h-5zM88 333h5v5h-5zM367 333h10v5h-10zM93 338h5v4h-5zM362 338h10v4h-10zM98 342h5v5h-5zM357 342h10v5h-10zM103 347h9v5h-9zM352 347h5v5h-5zM112 352h5v5h-5zM342 352h10v5h-10zM117 357h10v5h-10zM338 357h9v5h-9zM127 362h10v5h-10zM328 362h10v5h-10zM137 367h10v5h-10zM318 367h10v5h-10zM147 372h14v5h-14zM308 372h10v5h-10zM161 377h15v5h-15zM293 377h15v5h-15zM176 382h25v4h-25zM269 382h20v4h-20zM201 386h68v5h-68z"/>
<path fill="#218f8d" d="M171 59h69v5h-69zM147 64h19v4h-19zM245 64h19v4h-19zM132 68h15v5h-15zM264 68h15v5h-15zM122 73h10v5h-10zM279 73h14v5h-14zM112 78h10v5h-10zM293 78h10v5h-10zM103 83h9v5h-9zM303 83h10v5h-10zM98 88h5v5h-5zM313 88h10v5h-10zM88 93h10v5h-10zM323 93h5v5h-5zM83 98h5v5h-5zM328 98h10v5h-10zM78 103h5v5h-5zM333 103h9v5h-9zM73 108h5v4h-5zM342 108h5v4h-5zM68 112h5v5h-5zM347 112h5v5h-5zM64 117h4v5h-4zM352 117h5v5h-5zM59 122h5v5h-5zM357 122h5v5h-5zM54 127h10v5h-10zM362 127h5v5h-5zM54 132h5v5h-5zM367 132h5v5h-5zM49 137h5v5h-5zM372 137h5v5h-5zM49 142h5v5h-5zM372 142h5v5h-5zM44 147h5v5h-5zM377 147h5v5h-5zM44 152h5v5h-5zM382 152h4v5h-4zM39 157h5v4h-5zM382 157h4v4h-4zM39 161h5v5h-5zM386 161h5v5h-5zM39 166h5v5h-5zM386 166h5v5h-5zM34 171h5v5h-5zM391 171h5v5h-5zM34 176h5v5h-5zM391 176h5v5h-5zM34 181h5v5h-5zM396 181h5v5h-5zM34 186h5v5h-5zM396 186h5v5h-5zM29 191h5v5h-5zM396 191h5v5h-5zM29 196h5v5h-5zM401 196h5v5h-5zM29 201h5v4h-5zM401 201h5v4h-5zM29 205h5v5h-5zM401 205h5v5h-5zM29 210h5v5h-5zM401 210h5v5h-5zM29 215h5v5h-5zM29 220h5v5h-5zM406 220h5v5h-5zM406 225h5v5h-5zM34 230h5v5h-5zM406 230h5v5h-5zM34 235h5v5h-5zM406 235h5v5h-5zM34 240h5v5h-5zM406 240h5v5h-5zM34 245h5v4h-5zM406 245h5v4h-5zM39 249h5v5h-5zM406 249h5v5h-5zM39 254h5v5h-5zM401 254h5v5h-5zM39 259h5v5h-5zM401 259h5v5h-5zM44 264h5v5h-5zM401 264h5v5h-5zM44 269h5v5h-5zM401 269h5v5h-5zM49 274h5v5h-5zM396 274h5v5h-5zM49 279h5v5h-5zM396 279h5v5h-5zM54 284h5v5h-5zM396 284h5v5h-5zM54 289h5v4h-5zM391 289h5v4h-5zM59 293h5v5h-5zM391 293h5v5h-5zM64 298h4v5h-4zM386 298h5v5h-5zM64 303h4v5h-4zM386 303h5v5h-5zM68 308h5v5h-5zM382 308h4v5h-4zM73 313h5v5h-5zM377 313h9v5h-9zM78 318h5v5h-5zM377 318h5v5h-5zM83 323h5v5h-5zM372 323h5v5h-5zM88 328h5v5h-5zM367 328h5v5h-5zM93 333h5v5h-5zM362 333h5v5h-5zM98 338h10v4h-10zM357 338h5v4h-5zM103 342h9v5h-9zM352 342h5v5h-5zM112 347h5v5h-5zM342 347h10v5h-10zM117 352h10v5h-10zM338 352h4v5h-4zM127 357h10v5h-10zM328 357h10v5h-10zM137 362h10v5h-10zM318 362h10v5h-10zM147 367h14v5h-14zM308 367h10v5h-10zM161 372h15v5h-15zM293 372h15v5h-15zM176 377h20v5h-20zM274 377h19v5h-19zM201 382h68v4h-68z"/>
<path fill="#21908d" d="M166 64h30v4h-30zM215 64h30v4h-30zM147 68h14v5h-14zM249 68h15v5h-15zM132 73h10v5h-10zM269 73h10v5h-10zM122 78h10v5h-10zM284 78h9v5h-9zM112 83h10v5h-10zM293 83h10v5h-10zM103 88h9v5h-9zM303 88h10v5h-10zM98 93h5v5h-5zM313 93h10v5h-10zM88 98h10v5h-10zM323 98h5v5h-5zM83 103h5v5h-5zM328 103h5v5h-5zM78 108h5v4h-5zM338 108h4v4h-4zM73 112h5v5h-5zM342 112h5v5h-5zM68 117h5v5h-5zM347 117h5v5h-5zM64 122h4v5h-4zM352 122h5v5h-5zM64 127h4v5h-4zM357 127h5v5h-5zM59 132h5v5h-5zM362 132h5v5h-5zM54 137h5v5h-5zM367 137h5v5h-5zM54 142h5v5h-5zM367 142h5v5h-5zM49 147h5v5h-5zM372 147h5v5h-5zM49 152h5v5h-5zM377 152h5v5h-5zM44 157h5v4h-5zM377 157h5v4h-5zM44 161h5v5h-5zM382 161h4v5h-4zM39 171h5v5h-5zM386 171h5v5h-5zM39 176h5v5h-5zM386 176h5v5h-5zM39 181h5v5h-5zM391 181h5v5h-5zM391 186h5v5h-5zM34 191h5v5h-5zM34 196h5v5h-5zM396 196h5v5h-5zM34 201h5v4h-5zM396 201h5v4h-5zM34 205h5v5h-5zM396 205h5v5h-5zM34 210h5v5h-5zM34 215h5v5h-5zM401 215h5v5h-5zM34 220h5v5h-5zM401 220h5v5h-5zM34 225h5v5h-5zM401 225h5v5h-5zM401 230h5v5h-5zM39 235h5v5h-5zM401 235h5v5h-5zM39 240h5v5h-5zM401 240h5v5h-5zM39 245h5v4h-5zM401 245h5v4h-5zM401 249h5v5h-5zM44 254h5v5h-5zM44 259h5v5h-5zM396 259h5v5h-5zM49 264h5v5h-5zM396 264h5v5h-5zM49 269h5v5h-5zM396 269h5v5h-5zM54 279h5v5h-5zM391 279h5v5h-5zM59 284h5v5h-5zM391 284h5v5h-5zM59 289h5v4h-5zM386 289h5v4h-5zM64 293h4v5h-4zM386 293h5v5h-5zM68 298h5v5h-5zM382 298h4v5h-4zM68 303h5v5h-5zM382 303h4v5h-4zM73 308h5v5h-5zM377 308h5v5h-5zM78 313h5v5h-5zM372 313h5v5h-5zM83 318h5v5h-5zM372 318h5v5h-5zM88 323h5v5h-5zM367 323h5v5h-5zM93 328h5v5h-5zM362 328h5v5h-5zM98 333h5v5h-5zM357 333h5v5h-5zM108 338h4v4h-4zM352 338h5v4h-5zM112 342h5v5h-5zM342 342h10v5h-10zM117 347h10v5h-10zM338 347h4v5h-4zM127 352h10v5h-10zM328 352h10v5h-10zM137 357h10v5h-10zM318 357h10v5h-10zM147 362h10v5h-10zM308 362h10v5h-10zM161 367h10v5h-10zM298 367h10v5h-10zM176 372h15v5h-15zM279 372h14v5h-14zM196 377h29v5h-29zM245 377h29v5h-29z"/>
<path fill="#21918c" d="M196 64h19v4h-19zM161 68h20v5h-20zM230 68h19v5h-19zM142 73h15v5h-15zM259 73h10v5h-10zM132 78h10v5h-10zM274 78h10v5h-10zM122 83h5v5h-5zM289 83h4v5h-4zM112 88h5v5h-5zM298 88h5v5h-5zM103 93h9v5h-9zM308 93h5v5h-5zM98 98h5v5h-5zM313 98h10v5h-10zM88 103h10v5h-10zM323 103h5v5h-5zM83 108h10v4h-10zM328 108h10v4h-10zM78 112h5v5h-5zM338 112h4v5h-4zM73 117h5v5h-5zM342 117h5v5h-5zM68 122h10v5h-10zM347 122h5v5h-5zM68 127h5v5h-5zM352 127h5v5h-5zM64 132h4v5h-4zM357 132h5v5h-5zM59 137h5v5h-5zM362 137h5v5h-5zM59 142h5v5h-5zM362 142h5v5h-5zM54 147h5v5h-5zM367 147h5v5h-5zM54 152h5v5h-5zM372 152h5v5h-5zM49 157h5v4h-5zM49 161h5v5h-5zM377 161h5v5h-5zM44 166h5v5h-5zM382 166h4v5h-4zM44 171h5v5h-5zM382 171h4v5h-4zM44 176h5v5h-5zM44 181h5v5h-5zM386 181h5v5h-5zM39 186h5v5h-5zM386 186h5v5h-5zM39 191h5v5h-5zM391 191h5v5h-5zM39 196h5v5h-5zM391 196h5v5h-5zM39 201h5v4h-5zM391 201h5v4h-5zM39 205h5v5h-5zM39 210h5v5h-5zM396 210h5v5h-5zM39 215h5v5h-5zM396 215h5v5h-5zM39 220h5v5h-5zM396 220h5v5h-5zM39 225h5v5h-5zM396 225h5v5h-5zM39 230h5v5h-5zM396 230h5v5h-5zM396 235h5v5h-5zM44 240h5v5h-5zM396 240h5v5h-5zM44 245h5v4h-5zM396 245h5v4h-5zM44 249h5v5h-5zM396 249h5v5h-5zM49 254h5v5h-5zM396 254h5v5h-5zM49 259h5v5h-5zM391 259h5v5h-5zM391 264h5v5h-5zM54 269h5v5h-5zM391 269h5v5h-5zM54 274h5v5h-5zM391 274h5v5h-5zM59 279h5v5h-5zM386 279h5v5h-5zM386 284h5v5h-5zM64 289h4v4h-4zM382 289h4v4h-4zM68 293h5v5h-5zM382 293h4v5h-4zM73 298h5v5h-5zM377 298h5v5h-5zM73 303h5v5h-5zM377 303h5v5h-5zM78 308h5v5h-5zM372 308h5v5h-5zM83 313h5v5h-5zM367 313h5v5h-5zM88 318h5v5h-5zM362 318h10v5h-10zM93 323h5v5h-5zM362 323h5v5h-5zM98 328h5v5h-5zM357 328h5v5h-5zM103 333h9v5h-9zM347 333h10v5h-10zM112 338h5v4h-5zM342 338h10v4h-10zM117 342h10v5h-10zM338 342h4v5h-4zM127 347h5v5h-5zM328 347h10v5h-10zM137 352h5v5h-5zM323 352h5v5h-5zM147 357h5v5h-5zM313 357h5v5h-5zM157 362h9v5h-9zM298 362h10v5h-10zM171 367h10v5h-10zM284 367h14v5h-14zM191 372h19v5h-19zM259 372h20v5h-20zM225 377h20v5h-20z"/>
<path fill="#20928c" d="M181 68h49v5h-49zM157 73h14v5h-14zM245 73h14v5h-14zM142 78h10v5h-10zM264 78h10v5h-10zM127 83h10v5h-10zM279 83h10v5h-10zM117 88h10v5h-10zM289 88h9v5h-9zM112 93h5v5h-5zM298 93h10v5h-10zM103 98h5v5h-5zM308 98h5v5h-5zM98 103h5v5h-5zM318 103h5v5h-5zM93 108h5v4h-5zM323 108h5v4h-5zM83 112h5v5h-5zM333 112h5v5h-5zM78 117h5v5h-5zM338 117h4v5h-4zM342 122h5v5h-5zM73 127h5v5h-5zM347 127h5v5h-5zM68 132h5v5h-5zM352 132h5v5h-5zM64 137h4v5h-4zM357 137h5v5h-5zM64 142h4v5h-4zM59 147h5v5h-5zM362 147h5v5h-5zM367 152h5v5h-5zM54 157h5v4h-5zM372 157h5v4h-5zM54 161h5v5h-5zM372 161h5v5h-5zM49 166h5v5h-5zM377 166h5v5h-5zM49 171h5v5h-5zM377 171h5v5h-5zM49 176h5v5h-5zM382 176h4v5h-4zM382 181h4v5h-4zM44 186h5v5h-5zM44 191h5v5h-5zM386 191h5v5h-5zM44 196h5v5h-5zM386 196h5v5h-5zM44 201h5v4h-5zM44 205h5v5h-5zM391 205h5v5h-5zM44 210h5v5h-5zM391 210h5v5h-5zM44 215h5v5h-5zM391 215h5v5h-5zM44 220h5v5h-5zM391 220h5v5h-5zM44 225h5v5h-5zM391 225h5v5h-5zM44 230h5v5h-5zM391 230h5v5h-5zM44 235h5v5h-5zM391 235h5v5h-5zM391 240h5v5h-5zM49 245h5v4h-5zM391 245h5v4h-5zM49 249h5v5h-5zM391 249h5v5h-5zM391 254h5v5h-5zM54 259h5v5h-5zM54 264h5v5h-5zM386 264h5v5h-5zM59 269h5v5h-5zM386 269h5v5h-5zM59 274h5v5h-5zM386 274h5v5h-5zM64 279h4v5h-4zM382 279h4v5h-4zM64 284h4v5h-4zM382 284h4v5h-4zM68 289h5v4h-5zM73 293h5v5h-5zM377 293h5v5h-5zM372 298h5v5h-5zM78 303h5v5h-5zM372 303h5v5h-5zM83 308h5v5h-5zM367 308h5v5h-5zM88 313h5v5h-5zM362 313h5v5h-5zM93 318h5v5h-5zM98 323h5v5h-5zM357 323h5v5h-5zM103 328h5v5h-5zM352 328h5v5h-5zM112 333h5v5h-5zM342 333h5v5h-5zM117 338h5v4h-5zM338 338h4v4h-4zM127 342h5v5h-5zM333 342h5v5h-5zM132 347h10v5h-10zM323 347h5v5h-5zM142 352h10v5h-10zM313 352h10v5h-10zM152 357h9v5h-9zM303 357h10v5h-10zM166 362h10v5h-10zM289 362h9v5h-9zM181 367h15v5h-15zM269 367h15v5h-15zM210 372h49v5h-49z"/>
<path fill="#20928c" d="M171 73h25v5h-25zM220 73h25v5h-25zM152 78h9v5h-9zM254 78h10v5h-10zM137 83h10v5h-10zM269 83h10v5h-10zM127 88h5v5h-5zM284 88h5v5h-5zM117 93h5v5h-5zM293 93h5v5h-5zM108 98h9v5h-9zM303 98h5v5h-5zM103 103h5v5h-5zM313 103h5v5h-5zM98 108h5v4h-5zM318 108h5v4h-5zM88 112h10v5h-10zM328 112h5v5h-5zM83 117h5v5h-5zM333 117h5v5h-5zM78 122h5v5h-5zM338 122h4v5h-4zM78 127h5v5h-5zM342 127h5v5h-5zM73 132h5v5h-5zM347 132h5v5h-5zM68 137h5v5h-5zM352 137h5v5h-5zM357 142h5v5h-5zM64 147h4v5h-4zM59 152h5v5h-5zM362 152h5v5h-5zM59 157h5v4h-5zM367 157h5v4h-5zM54 166h5v5h-5zM372 166h5v5h-5zM54 171h5v5h-5zM377 176h5v5h-5zM49 181h5v5h-5zM49 186h5v5h-5zM382 186h4v5h-4zM49 191h5v5h-5zM382 191h4v5h-4zM49 196h5v5h-5zM386 201h5v4h-5zM386 205h5v5h-5zM386 210h5v5h-5zM386 215h5v5h-5zM49 225h5v5h-5zM49 230h5v5h-5zM49 235h5v5h-5zM49 240h5v5h-5zM386 245h5v4h-5zM54 249h5v5h-5zM386 249h5v5h-5zM54 254h5v5h-5zM386 254h5v5h-5zM386 259h5v5h-5zM59 264h5v5h-5zM382 269h4v5h-4zM64 274h4v5h-4zM382 274h4v5h-4zM68 284h5v5h-5zM377 284h5v5h-5zM73 289h5v4h-5zM377 289h5v4h-5zM372 293h5v5h-5zM78 298h5v5h-5zM83 303h5v5h-5zM367 303h5v5h-5zM88 308h5v5h-5zM362 308h5v5h-5zM93 313h5v5h-5zM357 313h5v5h-5zM98 318h5v5h-5zM357 318h5v5h-5zM103 323h5v5h-5zM352 323h5v5h-5zM108 328h4v5h-4zM342 328h10v5h-10zM117 333h5v5h-5zM338 333h4v5h-4zM122 338h5v4h-5zM333 338h5v4h-5zM132 342h5v5h-5zM323 342h10v5h-10zM142 347h5v5h-5zM318 347h5v5h-5zM152 352h5v5h-5zM308 352h5v5h-5zM161 357h10v5h-10zM293 357h10v5h-10zM176 362h10v5h-10zM279 362h10v5h-10zM196 367h24v5h-24zM245 367h24v5h-24z"/>
<path fill="#20938c" d="M196 73h24v5h-24zM161 78h15v5h-15zM240 78h14v5h-14zM147 83h10v5h-10zM259 83h10v5h-10zM132 88h10v5h-10zM274 88h10v5h-10zM122 93h10v5h-10zM289 93h4v5h-4zM117 98h5v5h-5zM298 98h5v5h-5zM108 103h4v5h-4zM308 103h5v5h-5zM103 108h5v4h-5zM313 108h5v4h-5zM323 112h5v5h-5zM88 117h5v5h-5zM328 117h5v5h-5zM83 122h5v5h-5zM333 122h5v5h-5zM338 127h4v5h-4zM78 132h5v5h-5zM342 132h5v5h-5zM73 137h5v5h-5zM347 137h5v5h-5zM68 142h5v5h-5zM352 142h5v5h-5zM68 147h5v5h-5zM357 147h5v5h-5zM64 152h4v5h-4zM362 157h5v4h-5zM59 161h5v5h-5zM367 161h5v5h-5zM59 166h5v5h-5zM367 166h5v5h-5zM372 171h5v5h-5zM54 176h5v5h-5zM372 176h5v5h-5zM54 181h5v5h-5zM377 181h5v5h-5zM377 186h5v5h-5zM382 196h4v5h-4zM49 201h5v4h-5zM382 201h4v4h-4zM49 205h5v5h-5zM382 205h4v5h-4zM49 210h5v5h-5zM49 215h5v5h-5zM49 220h5v5h-5zM386 220h5v5h-5zM386 225h5v5h-5zM386 230h5v5h-5zM54 235h5v5h-5zM386 235h5v5h-5zM54 240h5v5h-5zM386 240h5v5h-5zM54 245h5v4h-5zM59 254h5v5h-5zM59 259h5v5h-5zM382 259h4v5h-4zM64 264h4v5h-4zM382 264h4v5h-4zM64 269h4v5h-4zM68 274h5v5h-5zM377 274h5v5h-5zM68 279h5v5h-5zM377 279h5v5h-5zM73 284h5v5h-5zM372 289h5v4h-5zM78 293h5v5h-5zM367 293h5v5h-5zM83 298h5v5h-5zM367 298h5v5h-5zM88 303h5v5h-5zM362 303h5v5h-5zM93 308h5v5h-5zM357 308h5v5h-5zM98 313h5v5h-5zM103 318h5v5h-5zM352 318h5v5h-5zM108 323h4v5h-4zM347 323h5v5h-5zM112 328h5v5h-5zM122 333h5v5h-5zM333 333h5v5h-5zM127 338h5v4h-5zM328 338h5v4h-5zM137 342h5v5h-5zM318 342h5v5h-5zM147 347h5v5h-5zM308 347h10v5h-10zM157 352h9v5h-9zM298 352h10v5h-10zM171 357h10v5h-10zM284 357h9v5h-9zM186 362h15v5h-15zM264 362h15v5h-15zM220 367h25v5h-25z"/>
<path fill="#1f948c" d="M176 78h64v5h-64zM157 83h9v5h-9zM249 83h10v5h-10zM142 88h10v5h-10zM269 88h5v5h-5zM132 93h5v5h-5zM279 93h10v5h-10zM122 98h5v5h-5zM293 98h5v5h-5zM112 103h5v5h-5zM298 103h10v5h-10zM108 108h4v4h-4zM308 108h5v4h-5zM98 112h5v5h-5zM318 112h5v5h-5zM93 117h5v5h-5zM323 117h5v5h-5zM88 122h5v5h-5zM328 122h5v5h-5zM83 127h5v5h-5zM333 127h5v5h-5zM338 132h4v5h-4zM78 137h5v5h-5zM342 137h5v5h-5zM73 142h5v5h-5zM347 142h5v5h-5zM352 147h5v5h-5zM68 152h5v5h-5zM357 152h5v5h-5zM64 157h4v4h-4zM357 157h5v4h-5zM64 161h4v5h-4zM362 161h5v5h-5zM59 171h5v5h-5zM367 171h5v5h-5zM59 176h5v5h-5zM372 181h5v5h-5zM54 186h5v5h-5zM54 191h5v5h-5zM377 191h5v5h-5zM54 196h5v5h-5zM377 196h5v5h-5zM54 201h5v4h-5zM54 205h5v5h-5zM54 210h5v5h-5zM382 210h4v5h-4zM54 215h5v5h-5zM382 215h4v5h-4zM54 220h5v5h-5zM382 220h4v5h-4zM54 225h5v5h-5zM382 225h4v5h-4zM54 230h5v5h-5zM382 230h4v5h-4zM382 235h4v5h-4zM382 240h4v5h-4zM59 245h5v4h-5zM382 245h4v4h-4zM59 249h5v5h-5zM382 249h4v5h-4zM382 254h4v5h-4zM64 259h4v5h-4zM377 264h5v5h-5zM68 269h5v5h-5zM377 269h5v5h-5zM73 279h5v5h-5zM372 279h5v5h-5zM78 284h5v5h-5zM372 284h5v5h-5zM78 289h5v4h-5zM367 289h5v4h-5zM83 293h5v5h-5zM88 298h5v5h-5zM362 298h5v5h-5zM93 303h5v5h-5zM357 303h5v5h-5zM98 308h5v5h-5zM103 313h5v5h-5zM352 313h5v5h-5zM108 318h4v5h-4zM347 318h5v5h-5zM112 323h5v5h-5zM342 323h5v5h-5zM117 328h5v5h-5zM338 328h4v5h-4zM127 333h5v5h-5zM328 333h5v5h-5zM132 338h10v4h-10zM323 338h5v4h-5zM142 342h5v5h-5zM313 342h5v5h-5zM152 347h9v5h-9zM303 347h5v5h-5zM166 352h5v5h-5zM289 352h9v5h-9zM181 357h10v5h-10zM274 357h10v5h-10zM201 362h63v5h-63z"/>
<path fill="#1f958b" d="M166 83h15v5h-15zM235 83h14v5h-14zM152 88h5v5h-5zM259 88h10v5h-10zM137 93h10v5h-10zM274 93h5v5h-5zM127 98h5v5h-5zM284 98h9v5h-9zM117 103h5v5h-5zM293 103h5v5h-5zM112 108h5v4h-5zM303 108h5v4h-5zM103 112h5v5h-5zM313 112h5v5h-5zM98 117h5v5h-5zM318 117h5v5h-5zM93 122h5v5h-5zM323 122h5v5h-5zM88 127h5v5h-5zM83 132h5v5h-5zM78 142h5v5h-5zM73 147h5v5h-5zM347 147h5v5h-5zM352 152h5v5h-5zM68 157h5v4h-5zM357 161h5v5h-5zM64 166h4v5h-4zM362 166h5v5h-5zM64 171h4v5h-4zM367 176h5v5h-5zM59 181h5v5h-5zM59 186h5v5h-5zM372 186h5v5h-5zM59 191h5v5h-5zM372 191h5v5h-5zM377 201h5v4h-5zM377 205h5v5h-5zM377 210h5v5h-5zM377 215h5v5h-5zM59 225h5v5h-5zM59 230h5v5h-5zM59 235h5v5h-5zM59 240h5v5h-5zM64 249h4v5h-4zM377 249h5v5h-5zM64 254h4v5h-4zM377 254h5v5h-5zM377 259h5v5h-5zM68 264h5v5h-5zM372 269h5v5h-5zM73 274h5v5h-5zM372 274h5v5h-5zM78 279h5v5h-5zM367 284h5v5h-5zM83 289h5v4h-5zM88 293h5v5h-5zM362 293h5v5h-5zM357 298h5v5h-5zM352 308h5v5h-5zM347 313h5v5h-5zM112 318h5v5h-5zM342 318h5v5h-5zM117 323h5v5h-5zM338 323h4v5h-4zM122 328h5v5h-5zM333 328h5v5h-5zM132 333h5v5h-5zM323 333h5v5h-5zM142 338h5v4h-5zM318 338h5v4h-5zM147 342h10v5h-10zM308 342h5v5h-5zM161 347h5v5h-5zM293 347h10v5h-10zM171 352h10v5h-10zM284 352h5v5h-5zM191 357h14v5h-14zM259 357h15v5h-15z"/>
<path fill="#1f968b" d="M181 83h54v5h-54zM157 88h9v5h-9zM249 88h10v5h-10zM147 93h5v5h-5zM264 93h10v5h-10zM132 98h10v5h-10zM279 98h5v5h-5zM122 103h10v5h-10zM289 103h4v5h-4zM117 108h5v4h-5zM298 108h5v4h-5zM108 112h4v5h-4zM308 112h5v5h-5zM103 117h5v5h-5zM313 117h5v5h-5zM98 122h5v5h-5zM93 127h5v5h-5zM328 127h5v5h-5zM88 132h5v5h-5zM333 132h5v5h-5zM83 137h5v5h-5zM338 137h4v5h-4zM342 142h5v5h-5zM78 147h5v5h-5zM73 152h5v5h-5zM347 152h5v5h-5zM73 157h5v4h-5zM352 157h5v4h-5zM68 161h5v5h-5zM68 166h5v5h-5zM357 166h5v5h-5zM362 171h5v5h-5zM64 176h4v5h-4zM362 176h5v5h-5zM64 181h4v5h-4zM367 181h5v5h-5zM367 186h5v5h-5zM59 196h5v5h-5zM372 196h5v5h-5zM59 201h5v4h-5zM372 201h5v4h-5zM59 205h5v5h-5zM59 210h5v5h-5zM59 215h5v5h-5zM59 220h5v5h-5zM377 220h5v5h-5zM377 225h5v5h-5zM377 230h5v5h-5zM377 235h5v5h-5zM64 240h4v5h-4zM377 240h5v5h-5zM64 245h4v4h-4zM377 245h5v4h-5zM68 254h5v5h-5zM68 259h5v5h-5zM372 259h5v5h-5zM73 264h5v5h-5zM372 264h5v5h-5zM73 269h5v5h-5zM78 274h5v5h-5zM367 274h5v5h-5zM367 279h5v5h-5zM83 284h5v5h-5zM362 284h5v5h-5zM88 289h5v4h-5zM362 289h5v4h-5zM357 293h5v5h-5zM93 298h5v5h-5zM98 303h5v5h-5zM352 303h5v5h-5zM103 308h5v5h-5zM347 308h5v5h-5zM108 313h4v5h-4zM342 313h5v5h-5zM338 318h4v5h-4zM122 323h5v5h-5zM333 323h5v5h-5zM127 328h5v5h-5zM328 328h5v5h-5zM137 333h5v5h-5zM318 333h5v5h-5zM147 338h5v4h-5zM308 338h10v4h-10zM157 342h4v5h-4zM298 342h10v5h-10zM166 347h10v5h-10zM289 347h4v5h-4zM181 352h10v5h-10zM274 352h10v5h-10zM205 357h54v5h-54z"/>
<path fill="#1f978b" d="M166 88h15v5h-15zM235 88h14v5h-14zM152 93h9v5h-9zM259 93h5v5h-5zM142 98h5v5h-5zM274 98h5v5h-5zM132 103h5v5h-5zM284 103h5v5h-5zM122 108h5v4h-5zM293 108h5v4h-5zM112 112h5v5h-5zM303 112h5v5h-5zM108 117h4v5h-4zM308 117h5v5h-5zM103 122h5v5h-5zM318 122h5v5h-5zM98 127h5v5h-5zM323 127h5v5h-5zM93 132h5v5h-5zM328 132h5v5h-5zM88 137h5v5h-5zM333 137h5v5h-5zM83 142h5v5h-5zM338 142h4v5h-4zM342 147h5v5h-5zM78 152h5v5h-5zM73 161h5v5h-5zM352 161h5v5h-5zM68 171h5v5h-5zM357 171h5v5h-5zM362 181h5v5h-5zM64 186h4v5h-4zM64 191h4v5h-4zM367 191h5v5h-5zM64 196h4v5h-4zM367 196h5v5h-5zM64 201h4v4h-4zM372 205h5v5h-5zM372 210h5v5h-5zM372 215h5v5h-5zM64 220h4v5h-4zM372 220h5v5h-5zM64 225h4v5h-4zM64 230h4v5h-4zM64 235h4v5h-4zM372 240h5v5h-5zM68 245h5v4h-5zM372 245h5v4h-5zM68 249h5v5h-5zM372 249h5v5h-5zM372 254h5v5h-5zM73 259h5v5h-5zM78 269h5v5h-5zM367 269h5v5h-5zM83 279h5v5h-5zM362 279h5v5h-5zM357 289h5v4h-5zM93 293h5v5h-5zM98 298h5v5h-5zM352 298h5v5h-5zM103 303h5v5h-5zM347 303h5v5h-5zM108 308h4v5h-4zM342 308h5v5h-5zM112 313h5v5h-5zM338 313h4v5h-4zM117 318h5v5h-5zM333 318h5v5h-5zM127 323h5v5h-5zM328 323h5v5h-5zM132 328h5v5h-5zM323 328h5v5h-5zM142 333h5v5h-5zM313 333h5v5h-5zM152 338h5v4h-5zM303 338h5v4h-5zM161 342h5v5h-5zM293 342h5v5h-5zM176 347h5v5h-5zM279 347h10v5h-10zM191 352h14v5h-14zM259 352h15v5h-15z"/>
<path fill="#1f988b" d="M181 88h54v5h-54zM161 93h5v5h-5zM249 93h10v5h-10zM147 98h5v5h-5zM264 98h10v5h-10zM137 103h5v5h-5zM279 103h5v5h-5zM127 108h5v4h-5zM289 108h4v4h-4zM117 112h5v5h-5zM298 112h5v5h-5zM112 117h5v5h-5zM313 122h5v5h-5zM318 127h5v5h-5zM323 132h5v5h-5zM328 137h5v5h-5zM88 142h5v5h-5zM333 142h5v5h-5zM83 147h5v5h-5zM338 147h4v5h-4zM342 152h5v5h-5zM78 157h5v4h-5zM347 157h5v4h-5zM73 166h5v5h-5zM352 166h5v5h-5zM68 176h5v5h-5zM357 176h5v5h-5zM68 181h5v5h-5zM68 186h5v5h-5zM362 186h5v5h-5zM367 201h5v4h-5zM64 205h4v5h-4zM367 205h5v5h-5zM64 210h4v5h-4zM64 215h4v5h-4zM372 225h5v5h-5zM372 230h5v5h-5zM68 235h5v5h-5zM372 235h5v5h-5zM68 240h5v5h-5zM73 254h5v5h-5zM367 254h5v5h-5zM367 259h5v5h-5zM78 264h5v5h-5zM367 264h5v5h-5zM83 274h5v5h-5zM362 274h5v5h-5zM88 284h5v5h-5zM357 284h5v5h-5zM93 289h5v4h-5zM98 293h5v5h-5zM352 293h5v5h-5zM103 298h5v5h-5zM347 298h5v5h-5zM108 303h4v5h-4zM112 308h5v5h-5zM117 313h5v5h-5zM122 318h5v5h-5zM323 323h5v5h-5zM137 328h5v5h-5zM318 328h5v5h-5zM147 333h5v5h-5zM308 333h5v5h-5zM157 338h4v4h-4zM298 338h5v4h-5zM166 342h10v5h-10zM289 342h4v5h-4zM181 347h10v5h-10zM274 347h5v5h-5zM205 352h54v5h-54z"/>
<path fill="#1f998a" d="M166 93h15v5h-15zM240 93h9v5h-9zM152 98h9v5h-9zM259 98h5v5h-5zM142 103h5v5h-5zM274 103h5v5h-5zM132 108h5v4h-5zM284 108h5v4h-5zM122 112h5v5h-5zM293 112h5v5h-5zM117 117h5v5h-5zM303 117h5v5h-5zM108 122h4v5h-4zM308 122h5v5h-5zM103 127h5v5h-5zM98 132h5v5h-5zM93 137h5v5h-5zM88 147h5v5h-5zM83 152h5v5h-5zM342 157h5v4h-5zM78 161h5v5h-5zM347 161h5v5h-5zM73 171h5v5h-5zM352 171h5v5h-5zM73 176h5v5h-5zM357 181h5v5h-5zM68 191h5v5h-5zM362 191h5v5h-5zM68 196h5v5h-5zM362 196h5v5h-5zM68 201h5v4h-5zM68 205h5v5h-5zM68 210h5v5h-5zM367 210h5v5h-5zM68 215h5v5h-5zM367 215h5v5h-5zM68 220h5v5h-5zM367 220h5v5h-5zM68 225h5v5h-5zM367 225h5v5h-5zM68 230h5v5h-5zM367 230h5v5h-5zM367 235h5v5h-5zM367 240h5v5h-5zM73 245h5v4h-5zM367 245h5v4h-5zM73 249h5v5h-5zM367 249h5v5h-5zM78 259h5v5h-5zM362 264h5v5h-5zM83 269h5v5h-5zM362 269h5v5h-5zM88 279h5v5h-5zM357 279h5v5h-5zM93 284h5v5h-5zM352 289h5v4h-5zM347 293h5v5h-5zM342 303h5v5h-5zM338 308h4v5h-4zM333 313h5v5h-5zM127 318h5v5h-5zM328 318h5v5h-5zM132 323h5v5h-5zM318 323h5v5h-5zM142 328h5v5h-5zM313 328h5v5h-5zM152 333h5v5h-5zM303 333h5v5h-5zM161 338h5v4h-5zM293 338h5v4h-5zM176 342h5v5h-5zM279 342h10v5h-10zM191 347h10v5h-10zM259 347h15v5h-15z"/>
<path fill="#1f9a8a" d="M181 93h15v5h-15zM225 93h15v5h-15zM161 98h5v5h-5zM254 98h5v5h-5zM147 103h5v5h-5zM269 103h5v5h-5zM137 108h5v4h-5zM279 108h5v4h-5zM127 112h5v5h-5zM289 112h4v5h-4zM298 117h5v5h-5zM112 122h5v5h-5zM303 122h5v5h-5zM108 127h4v5h-4zM313 127h5v5h-5zM103 132h5v5h-5zM318 132h5v5h-5zM98 137h5v5h-5zM323 137h5v5h-5zM93 142h5v5h-5zM328 142h5v5h-5zM333 147h5v5h-5zM88 152h5v5h-5zM338 152h4v5h-4zM83 157h5v4h-5zM342 161h5v5h-5zM78 166h5v5h-5zM347 166h5v5h-5zM352 176h5v5h-5zM73 181h5v5h-5zM73 186h5v5h-5zM357 186h5v5h-5zM362 201h5v4h-5zM362 205h5v5h-5zM73 235h5v5h-5zM73 240h5v5h-5zM78 254h5v5h-5zM362 254h5v5h-5zM362 259h5v5h-5zM83 264h5v5h-5zM88 274h5v5h-5zM357 274h5v5h-5zM93 279h5v5h-5zM352 284h5v5h-5zM98 289h5v4h-5zM347 289h5v4h-5zM103 293h5v5h-5zM108 298h4v5h-4zM342 298h5v5h-5zM112 303h5v5h-5zM338 303h4v5h-4zM117 308h5v5h-5zM333 308h5v5h-5zM122 313h5v5h-5zM328 313h5v5h-5zM132 318h5v5h-5zM323 318h5v5h-5zM137 323h5v5h-5zM147 328h5v5h-5zM308 328h5v5h-5zM157 333h4v5h-4zM298 333h5v5h-5zM166 338h5v4h-5zM289 338h4v4h-4zM181 342h5v5h-5zM274 342h5v5h-5zM201 347h14v5h-14zM245 347h14v5h-14z"/>
<path fill="#1e9b8a" d="M196 93h29v5h-29zM166 98h10v5h-10zM245 98h9v5h-9zM152 103h5v5h-5zM259 103h10v5h-10zM142 108h5v4h-5zM274 108h5v4h-5zM132 112h5v5h-5zM284 112h5v5h-5zM122 117h5v5h-5zM293 117h5v5h-5zM117 122h5v5h-5zM112 127h5v5h-5zM308 127h5v5h-5zM313 132h5v5h-5zM98 142h5v5h-5zM93 147h5v5h-5zM333 152h5v5h-5zM338 157h4v4h-4zM83 161h5v5h-5zM78 171h5v5h-5zM347 171h5v5h-5zM78 176h5v5h-5zM352 181h5v5h-5zM73 191h5v5h-5zM357 191h5v5h-5zM73 196h5v5h-5zM357 196h5v5h-5zM73 201h5v4h-5zM73 205h5v5h-5zM73 210h5v5h-5zM362 210h5v5h-5zM73 215h5v5h-5zM362 215h5v5h-5zM73 220h5v5h-5zM362 220h5v5h-5zM73 225h5v5h-5zM362 225h5v5h-5zM73 230h5v5h-5zM362 230h5v5h-5zM362 235h5v5h-5zM362 240h5v5h-5zM78 245h5v4h-5zM362 245h5v4h-5zM78 249h5v5h-5zM362 249h5v5h-5zM83 259h5v5h-5zM357 264h5v5h-5zM88 269h5v5h-5zM357 269h5v5h-5zM352 279h5v5h-5zM98 284h5v5h-5zM103 289h5v4h-5zM342 293h5v5h-5zM338 298h4v5h-4zM122 308h5v5h-5zM127 313h5v5h-5zM323 313h5v5h-5zM318 318h5v5h-5zM142 323h5v5h-5zM313 323h5v5h-5zM152 328h5v5h-5zM303 328h5v5h-5zM161 333h5v5h-5zM293 333h5v5h-5zM171 338h10v4h-10zM284 338h5v4h-5zM186 342h10v5h-10zM264 342h10v5h-10zM215 347h30v5h-30z"/>
<path fill="#1e9c89" d="M176 98h10v5h-10zM230 98h15v5h-15zM157 103h9v5h-9zM254 103h5v5h-5zM147 108h5v4h-5zM269 108h5v4h-5zM137 112h5v5h-5zM279 112h5v5h-5zM127 117h5v5h-5zM289 117h4v5h-4zM122 122h5v5h-5zM298 122h5v5h-5zM303 127h5v5h-5zM108 132h4v5h-4zM103 137h5v5h-5zM318 137h5v5h-5zM323 142h5v5h-5zM328 147h5v5h-5zM93 152h5v5h-5zM88 157h5v4h-5zM338 161h4v5h-4zM83 166h5v5h-5zM342 166h5v5h-5zM83 171h5v5h-5zM347 176h5v5h-5zM78 181h5v5h-5zM78 186h5v5h-5zM352 186h5v5h-5zM357 201h5v4h-5zM357 205h5v5h-5zM78 235h5v5h-5zM78 240h5v5h-5zM83 254h5v5h-5zM357 254h5v5h-5zM357 259h5v5h-5zM88 264h5v5h-5zM352 269h5v5h-5zM93 274h5v5h-5zM352 274h5v5h-5zM98 279h5v5h-5zM347 284h5v5h-5zM342 289h5v4h-5zM108 293h4v5h-4zM112 298h5v5h-5zM117 303h5v5h-5zM333 303h5v5h-5zM328 308h5v5h-5zM132 313h5v5h-5zM137 318h5v5h-5zM313 318h5v5h-5zM147 323h5v5h-5zM308 323h5v5h-5zM157 328h4v5h-4zM298 328h5v5h-5zM166 333h5v5h-5zM289 333h4v5h-4zM181 338h5v4h-5zM274 338h10v4h-10zM196 342h14v5h-14zM254 342h10v5h-10z"/>
<path fill="#1e9d89" d="M186 98h44v5h-44zM166 103h5v5h-5zM249 103h5v5h-5zM152 108h5v4h-5zM264 108h5v4h-5zM142 112h5v5h-5zM274 112h5v5h-5zM132 117h5v5h-5zM284 117h5v5h-5zM293 122h5v5h-5zM117 127h5v5h-5zM112 132h5v5h-5zM308 132h5v5h-5zM108 137h4v5h-4zM313 137h5v5h-5zM103 142h5v5h-5zM318 142h5v5h-5zM98 147h5v5h-5zM323 147h5v5h-5zM328 152h5v5h-5zM93 157h5v4h-5zM333 157h5v4h-5zM88 161h5v5h-5zM342 171h5v5h-5zM83 176h5v5h-5zM347 181h5v5h-5zM78 191h5v5h-5zM352 191h5v5h-5zM78 196h5v5h-5zM352 196h5v5h-5zM78 201h5v4h-5zM357 210h5v5h-5zM357 215h5v5h-5zM78 220h5v5h-5zM357 220h5v5h-5zM78 225h5v5h-5zM78 230h5v5h-5zM357 240h5v5h-5zM83 245h5v4h-5zM357 245h5v4h-5zM83 249h5v5h-5zM357 249h5v5h-5zM88 259h5v5h-5zM352 264h5v5h-5zM93 269h5v5h-5zM347 279h5v5h-5zM103 284h5v5h-5zM342 284h5v5h-5zM108 289h4v4h-4zM112 293h5v5h-5zM338 293h4v5h-4zM117 298h5v5h-5zM333 298h5v5h-5zM122 303h5v5h-5zM328 303h5v5h-5zM127 308h5v5h-5zM323 308h5v5h-5zM318 313h5v5h-5zM142 318h5v5h-5zM152 323h5v5h-5zM303 323h5v5h-5zM161 328h5v5h-5zM293 328h5v5h-5zM171 333h5v5h-5zM284 333h5v5h-5zM186 338h5v4h-5zM269 338h5v4h-5zM210 342h44v5h-44z"/>
<path fill="#1f9e89" d="M171 103h10v5h-10zM240 103h9v5h-9zM157 108h4v4h-4zM259 108h5v4h-5zM147 112h5v5h-5zM269 112h5v5h-5zM137 117h5v5h-5zM127 122h5v5h-5zM289 122h4v5h-4zM122 127h5v5h-5zM298 127h5v5h-5zM303 132h5v5h-5zM103 147h5v5h-5zM98 152h5v5h-5zM93 161h5v5h-5zM333 161h5v5h-5zM88 166h5v5h-5zM338 166h4v5h-4zM88 171h5v5h-5zM342 176h5v5h-5zM83 181h5v5h-5zM83 186h5v5h-5zM347 186h5v5h-5zM352 201h5v4h-5zM78 205h5v5h-5zM78 210h5v5h-5zM78 215h5v5h-5zM357 225h5v5h-5zM357 230h5v5h-5zM357 235h5v5h-5zM83 240h5v5h-5zM88 254h5v5h-5zM352 254h5v5h-5zM352 259h5v5h-5zM93 264h5v5h-5zM347 269h5v5h-5zM98 274h5v5h-5zM347 274h5v5h-5zM103 279h5v5h-5zM342 279h5v5h-5zM338 289h4v4h-4zM333 293h5v5h-5zM132 308h5v5h-5zM137 313h5v5h-5zM313 313h5v5h-5zM147 318h5v5h-5zM308 318h5v5h-5zM298 323h5v5h-5zM166 328h5v5h-5zM289 328h4v5h-4zM176 333h5v5h-5zM279 333h5v5h-5zM191 338h10v4h-10zM259 338h10v4h-10z"/>
<path fill="#1f9f88" d="M181 103h15v5h-15zM225 103h15v5h-15zM161 108h10v4h-10zM249 108h10v4h-10zM152 112h5v5h-5zM142 117h5v5h-5zM279 117h5v5h-5zM132 122h5v5h-5zM293 127h5v5h-5zM117 132h5v5h-5zM112 137h5v5h-5zM308 137h5v5h-5zM108 142h4v5h-4zM313 142h5v5h-5zM318 147h5v5h-5zM323 152h5v5h-5zM98 157h5v4h-5zM328 157h5v4h-5zM338 171h4v5h-4zM88 176h5v5h-5zM342 181h5v5h-5zM83 191h5v5h-5zM347 191h5v5h-5zM83 196h5v5h-5zM352 205h5v5h-5zM352 210h5v5h-5zM352 215h5v5h-5zM83 225h5v5h-5zM83 230h5v5h-5zM83 235h5v5h-5zM352 245h5v4h-5zM88 249h5v5h-5zM352 249h5v5h-5zM93 259h5v5h-5zM347 264h5v5h-5zM98 269h5v5h-5zM108 284h4v5h-4zM338 284h4v5h-4zM112 289h5v4h-5zM117 293h5v5h-5zM122 298h5v5h-5zM328 298h5v5h-5zM127 303h5v5h-5zM323 303h5v5h-5zM318 308h5v5h-5zM142 313h5v5h-5zM303 318h5v5h-5zM157 323h4v5h-4zM293 323h5v5h-5zM284 328h5v5h-5zM181 333h10v5h-10zM269 333h10v5h-10zM201 338h14v4h-14zM245 338h14v4h-14z"/>
<path fill="#1fa088" d="M196 103h29v5h-29zM171 108h5v4h-5zM245 108h4v4h-4zM157 112h4v5h-4zM259 112h10v5h-10zM147 117h5v5h-5zM274 117h5v5h-5zM137 122h5v5h-5zM284 122h5v5h-5zM127 127h5v5h-5zM122 132h5v5h-5zM298 132h5v5h-5zM117 137h5v5h-5zM112 142h5v5h-5zM108 147h4v5h-4zM103 152h5v5h-5zM98 161h5v5h-5zM328 161h5v5h-5zM93 166h5v5h-5zM333 166h5v5h-5zM338 176h4v5h-4zM88 181h5v5h-5zM342 186h5v5h-5zM347 196h5v5h-5zM83 201h5v4h-5zM347 201h5v4h-5zM83 205h5v5h-5zM83 210h5v5h-5zM83 215h5v5h-5zM83 220h5v5h-5zM352 220h5v5h-5zM352 225h5v5h-5zM352 230h5v5h-5zM352 235h5v5h-5zM88 240h5v5h-5zM352 240h5v5h-5zM88 245h5v4h-5zM93 254h5v5h-5zM347 259h5v5h-5zM98 264h5v5h-5zM103 274h5v5h-5zM342 274h5v5h-5zM108 279h4v5h-4zM338 279h4v5h-4zM333 289h5v4h-5zM328 293h5v5h-5zM323 298h5v5h-5zM318 303h5v5h-5zM137 308h5v5h-5zM313 308h5v5h-5zM308 313h5v5h-5zM152 318h5v5h-5zM298 318h5v5h-5zM161 323h5v5h-5zM289 323h4v5h-4zM171 328h10v5h-10zM279 328h5v5h-5zM191 333h5v5h-5zM264 333h5v5h-5zM215 338h30v4h-30z"/>
<path fill="#1fa188" d="M176 108h10v4h-10zM235 108h10v4h-10zM161 112h5v5h-5zM254 112h5v5h-5zM269 117h5v5h-5zM279 122h5v5h-5zM132 127h5v5h-5zM289 127h4v5h-4zM303 137h5v5h-5zM308 142h5v5h-5zM313 147h5v5h-5zM318 152h5v5h-5zM103 157h5v4h-5zM323 157h5v4h-5zM93 171h5v5h-5zM333 171h5v5h-5zM93 176h5v5h-5zM338 181h4v5h-4zM88 186h5v5h-5zM88 191h5v5h-5zM342 191h5v5h-5zM347 205h5v5h-5zM347 210h5v5h-5zM88 230h5v5h-5zM88 235h5v5h-5zM93 249h5v5h-5zM347 249h5v5h-5zM347 254h5v5h-5zM98 259h5v5h-5zM342 264h5v5h-5zM103 269h5v5h-5zM342 269h5v5h-5zM112 284h5v5h-5zM333 284h5v5h-5zM117 289h5v4h-5zM122 293h5v5h-5zM127 298h5v5h-5zM132 303h5v5h-5zM147 313h5v5h-5zM303 313h5v5h-5zM157 318h4v5h-4zM166 323h5v5h-5zM181 328h5v5h-5zM274 328h5v5h-5zM196 333h9v5h-9zM254 333h10v5h-10z"/>
<path fill="#1fa187" d="M186 108h15v4h-15zM220 108h15v4h-15zM166 112h5v5h-5zM249 112h5v5h-5zM152 117h5v5h-5zM264 117h5v5h-5zM142 122h5v5h-5zM274 122h5v5h-5zM284 127h5v5h-5zM127 132h5v5h-5zM293 132h5v5h-5zM122 137h5v5h-5zM298 137h5v5h-5zM117 142h5v5h-5zM112 147h5v5h-5zM108 152h4v5h-4zM323 161h5v5h-5zM98 166h5v5h-5zM328 166h5v5h-5zM333 176h5v5h-5zM93 181h5v5h-5zM338 186h4v5h-4zM88 196h5v5h-5zM342 196h5v5h-5zM88 201h5v4h-5zM88 205h5v5h-5zM88 210h5v5h-5zM88 215h5v5h-5zM347 215h5v5h-5zM88 220h5v5h-5zM347 220h5v5h-5zM88 225h5v5h-5zM347 225h5v5h-5zM347 230h5v5h-5zM347 235h5v5h-5zM347 240h5v5h-5zM93 245h5v4h-5zM347 245h5v4h-5zM98 254h5v5h-5zM342 259h5v5h-5zM103 264h5v5h-5zM108 274h4v5h-4zM338 274h4v5h-4zM112 279h5v5h-5zM328 289h5v4h-5zM323 293h5v5h-5zM318 298h5v5h-5zM137 303h5v5h-5zM313 303h5v5h-5zM142 308h5v5h-5zM308 308h5v5h-5zM152 313h5v5h-5zM161 318h5v5h-5zM293 318h5v5h-5zM171 323h5v5h-5zM284 323h5v5h-5zM186 328h5v5h-5zM269 328h5v5h-5zM205 333h15v5h-15zM240 333h14v5h-14z"/>
<path fill="#1fa287" d="M201 108h19v4h-19zM171 112h10v5h-10zM245 112h4v5h-4zM157 117h4v5h-4zM259 117h5v5h-5zM147 122h5v5h-5zM137 127h5v5h-5zM132 132h5v5h-5zM289 132h4v5h-4zM303 142h5v5h-5zM308 147h5v5h-5zM313 152h5v5h-5zM108 157h4v4h-4zM318 157h5v4h-5zM103 161h5v5h-5zM98 171h5v5h-5zM328 171h5v5h-5zM93 186h5v5h-5zM338 191h4v5h-4zM342 201h5v4h-5zM342 205h5v5h-5zM93 235h5v5h-5zM93 240h5v5h-5zM98 249h5v5h-5zM342 254h5v5h-5zM108 269h4v5h-4zM338 269h4v5h-4zM333 279h5v5h-5zM117 284h5v5h-5zM328 284h5v5h-5zM122 289h5v4h-5zM127 293h5v5h-5zM132 298h5v5h-5zM147 308h5v5h-5zM303 308h5v5h-5zM298 313h5v5h-5zM289 318h4v5h-4zM176 323h5v5h-5zM279 323h5v5h-5zM191 328h5v5h-5zM259 328h10v5h-10zM220 333h20v5h-20z"/>
<path fill="#20a386" d="M181 112h5v5h-5zM235 112h10v5h-10zM161 117h5v5h-5zM254 117h5v5h-5zM152 122h5v5h-5zM269 122h5v5h-5zM142 127h5v5h-5zM279 127h5v5h-5zM127 137h5v5h-5zM293 137h5v5h-5zM122 142h5v5h-5zM117 147h5v5h-5zM112 152h5v5h-5zM103 166h5v5h-5zM323 166h5v5h-5zM98 176h5v5h-5zM333 181h5v5h-5zM93 191h5v5h-5zM93 196h5v5h-5zM338 196h4v5h-4zM93 201h5v4h-5zM342 210h5v5h-5zM342 215h5v5h-5zM93 225h5v5h-5zM93 230h5v5h-5zM342 240h5v5h-5zM98 245h5v4h-5zM342 245h5v4h-5zM342 249h5v5h-5zM103 259h5v5h-5zM338 264h4v5h-4zM112 274h5v5h-5zM333 274h5v5h-5zM323 289h5v4h-5zM318 293h5v5h-5zM313 298h5v5h-5zM142 303h5v5h-5zM308 303h5v5h-5zM157 313h4v5h-4zM293 313h5v5h-5zM166 318h5v5h-5zM284 318h5v5h-5zM181 323h5v5h-5zM274 323h5v5h-5zM196 328h9v5h-9zM254 328h5v5h-5z"/>
<path fill="#20a486" d="M186 112h15v5h-15zM225 112h10v5h-10zM166 117h10v5h-10zM249 117h5v5h-5zM157 122h4v5h-4zM264 122h5v5h-5zM147 127h5v5h-5zM274 127h5v5h-5zM137 132h5v5h-5zM284 132h5v5h-5zM132 137h5v5h-5zM298 142h5v5h-5zM303 147h5v5h-5zM308 152h5v5h-5zM112 157h5v4h-5zM313 157h5v4h-5zM108 161h4v5h-4zM318 161h5v5h-5zM103 171h5v5h-5zM328 176h5v5h-5zM98 181h5v5h-5zM98 186h5v5h-5zM333 186h5v5h-5zM338 201h4v4h-4zM93 205h5v5h-5zM93 210h5v5h-5zM93 215h5v5h-5zM93 220h5v5h-5zM342 220h5v5h-5zM342 225h5v5h-5zM342 230h5v5h-5zM342 235h5v5h-5zM98 240h5v5h-5zM103 254h5v5h-5zM338 254h4v5h-4zM338 259h4v5h-4zM108 264h4v5h-4zM333 269h5v5h-5zM117 279h5v5h-5zM328 279h5v5h-5zM122 284h5v5h-5zM323 284h5v5h-5zM127 289h5v4h-5zM132 293h5v5h-5zM137 298h5v5h-5zM303 303h5v5h-5zM152 308h5v5h-5zM298 308h5v5h-5zM161 313h5v5h-5zM289 313h4v5h-4zM171 318h5v5h-5zM279 318h5v5h-5zM186 323h5v5h-5zM264 323h10v5h-10zM205 328h10v5h-10zM240 328h14v5h-14z"/>
<path fill="#21a585" d="M201 112h24v5h-24zM176 117h5v5h-5zM245 117h4v5h-4zM161 122h5v5h-5zM259 122h5v5h-5zM142 132h5v5h-5zM279 132h5v5h-5zM289 137h4v5h-4zM127 142h5v5h-5zM293 142h5v5h-5zM122 147h5v5h-5zM117 152h5v5h-5zM108 166h4v5h-4zM318 166h5v5h-5zM323 171h5v5h-5zM103 176h5v5h-5zM328 181h5v5h-5zM98 191h5v5h-5zM333 191h5v5h-5zM338 205h4v5h-4zM338 210h4v5h-4zM98 230h5v5h-5zM98 235h5v5h-5zM103 249h5v5h-5zM338 249h4v5h-4zM108 259h4v5h-4zM333 264h5v5h-5zM112 269h5v5h-5zM117 274h5v5h-5zM328 274h5v5h-5zM318 289h5v4h-5zM313 293h5v5h-5zM142 298h5v5h-5zM308 298h5v5h-5zM147 303h5v5h-5zM157 308h4v5h-4zM293 308h5v5h-5zM176 318h5v5h-5zM274 318h5v5h-5zM191 323h5v5h-5zM259 323h5v5h-5zM215 328h25v5h-25z"/>
<path fill="#21a685" d="M181 117h5v5h-5zM235 117h10v5h-10zM166 122h5v5h-5zM254 122h5v5h-5zM152 127h5v5h-5zM269 127h5v5h-5zM137 137h5v5h-5zM284 137h5v5h-5zM298 147h5v5h-5zM303 152h5v5h-5zM117 157h5v4h-5zM308 157h5v4h-5zM112 161h5v5h-5zM313 161h5v5h-5zM108 171h4v5h-4zM323 176h5v5h-5zM103 181h5v5h-5zM328 186h5v5h-5zM98 196h5v5h-5zM333 196h5v5h-5zM98 201h5v4h-5zM98 205h5v5h-5zM98 210h5v5h-5zM98 215h5v5h-5zM338 215h4v5h-4zM98 220h5v5h-5zM338 220h4v5h-4zM98 225h5v5h-5zM338 225h4v5h-4zM338 230h4v5h-4zM338 235h4v5h-4zM338 240h4v5h-4zM103 245h5v4h-5zM338 245h4v4h-4zM108 254h4v5h-4zM333 259h5v5h-5zM112 264h5v5h-5zM328 269h5v5h-5zM122 279h5v5h-5zM323 279h5v5h-5zM127 284h5v5h-5zM318 284h5v5h-5zM132 289h5v4h-5zM137 293h5v5h-5zM152 303h5v5h-5zM298 303h5v5h-5zM166 313h5v5h-5zM284 313h5v5h-5zM181 318h5v5h-5zM269 318h5v5h-5zM196 323h9v5h-9zM254 323h5v5h-5z"/>
<path fill="#22a785" d="M186 117h10v5h-10zM225 117h10v5h-10zM171 122h5v5h-5zM249 122h5v5h-5zM157 127h4v5h-4zM264 127h5v5h-5zM147 132h5v5h-5zM274 132h5v5h-5zM132 142h5v5h-5zM289 142h4v5h-4zM127 147h5v5h-5zM122 152h5v5h-5zM112 166h5v5h-5zM318 171h5v5h-5zM108 176h4v5h-4zM103 186h5v5h-5zM333 201h5v4h-5zM103 240h5v5h-5zM333 254h5v5h-5zM328 264h5v5h-5zM117 269h5v5h-5zM323 274h5v5h-5zM313 289h5v4h-5zM308 293h5v5h-5zM147 298h5v5h-5zM303 298h5v5h-5zM161 308h5v5h-5zM289 308h4v5h-4zM171 313h5v5h-5zM279 313h5v5h-5zM186 318h5v5h-5zM264 318h5v5h-5zM205 323h10v5h-10zM245 323h9v5h-9z"/>
<path fill="#22a884" d="M196 117h29v5h-29zM176 122h5v5h-5zM245 122h4v5h-4zM161 127h5v5h-5zM259 127h5v5h-5zM152 132h5v5h-5zM142 137h5v5h-5zM279 137h5v5h-5zM137 142h5v5h-5zM293 147h5v5h-5zM298 152h5v5h-5zM303 157h5v4h-5zM117 161h5v5h-5zM308 161h5v5h-5zM313 166h5v5h-5zM323 181h5v5h-5zM103 191h5v5h-5zM328 191h5v5h-5zM103 196h5v5h-5zM333 205h5v5h-5zM333 210h5v5h-5zM103 230h5v5h-5zM103 235h5v5h-5zM333 245h5v4h-5zM108 249h4v5h-4zM333 249h5v5h-5zM112 259h5v5h-5zM122 274h5v5h-5zM127 279h5v5h-5zM318 279h5v5h-5zM132 284h5v5h-5zM137 289h5v4h-5zM142 293h5v5h-5zM298 298h5v5h-5zM157 303h4v5h-4zM293 303h5v5h-5zM284 308h5v5h-5zM176 313h5v5h-5zM274 313h5v5h-5zM191 318h5v5h-5zM259 318h5v5h-5zM215 323h30v5h-30z"/>
<path fill="#23a983" d="M181 122h5v5h-5zM240 122h5v5h-5zM166 127h5v5h-5zM254 127h5v5h-5zM269 132h5v5h-5zM147 137h5v5h-5zM284 142h5v5h-5zM132 147h5v5h-5zM127 152h5v5h-5zM122 157h5v4h-5zM112 171h5v5h-5zM318 176h5v5h-5zM108 181h4v5h-4zM323 186h5v5h-5zM328 196h5v5h-5zM103 201h5v4h-5zM103 205h5v5h-5zM103 210h5v5h-5zM103 215h5v5h-5zM333 215h5v5h-5zM103 220h5v5h-5zM333 220h5v5h-5zM103 225h5v5h-5zM333 225h5v5h-5zM333 230h5v5h-5zM333 235h5v5h-5zM333 240h5v5h-5zM108 245h4v4h-4zM112 254h5v5h-5zM328 259h5v5h-5zM117 264h5v5h-5zM323 269h5v5h-5zM313 284h5v5h-5zM308 289h5v4h-5zM303 293h5v5h-5zM152 298h5v5h-5zM289 303h4v5h-4zM166 308h5v5h-5zM181 313h5v5h-5zM269 313h5v5h-5zM196 318h5v5h-5zM254 318h5v5h-5z"/>
<path fill="#24aa83" d="M186 122h10v5h-10zM230 122h10v5h-10zM171 127h5v5h-5zM157 132h4v5h-4zM264 132h5v5h-5zM274 137h5v5h-5zM142 142h5v5h-5zM289 147h4v5h-4zM293 152h5v5h-5zM122 161h5v5h-5zM117 166h5v5h-5zM308 166h5v5h-5zM313 171h5v5h-5zM112 176h5v5h-5zM318 181h5v5h-5zM108 186h4v5h-4zM108 191h4v5h-4zM323 191h5v5h-5zM328 201h5v4h-5zM328 205h5v5h-5zM108 235h4v5h-4zM108 240h4v5h-4zM112 249h5v5h-5zM328 249h5v5h-5zM328 254h5v5h-5zM117 259h5v5h-5zM323 264h5v5h-5zM122 269h5v5h-5zM127 274h5v5h-5zM318 274h5v5h-5zM313 279h5v5h-5zM142 289h5v4h-5zM147 293h5v5h-5zM293 298h5v5h-5zM161 303h5v5h-5zM171 308h5v5h-5zM279 308h5v5h-5zM264 313h5v5h-5zM201 318h9v5h-9zM245 318h9v5h-9z"/>
<path fill="#25ab82" d="M196 122h34v5h-34zM176 127h5v5h-5zM249 127h5v5h-5zM161 132h5v5h-5zM259 132h5v5h-5zM152 137h5v5h-5zM279 142h5v5h-5zM137 147h5v5h-5zM132 152h5v5h-5zM127 157h5v4h-5zM298 157h5v4h-5zM303 161h5v5h-5zM117 171h5v5h-5zM313 176h5v5h-5zM112 181h5v5h-5zM108 196h4v5h-4zM323 196h5v5h-5zM328 210h5v5h-5zM108 230h4v5h-4zM112 245h5v4h-5zM328 245h5v4h-5zM323 259h5v5h-5zM122 264h5v5h-5zM318 269h5v5h-5zM132 279h5v5h-5zM137 284h5v5h-5zM308 284h5v5h-5zM303 289h5v4h-5zM298 293h5v5h-5zM157 298h4v5h-4zM284 303h5v5h-5zM176 308h5v5h-5zM274 308h5v5h-5zM186 313h5v5h-5zM259 313h5v5h-5zM210 318h35v5h-35z"/>
<path fill="#25ac82" d="M181 127h5v5h-5zM245 127h4v5h-4zM166 132h5v5h-5zM269 137h5v5h-5zM147 142h5v5h-5zM284 147h5v5h-5zM122 166h5v5h-5zM308 171h5v5h-5zM112 186h5v5h-5zM318 186h5v5h-5zM108 201h4v4h-4zM108 205h4v5h-4zM108 210h4v5h-4zM108 215h4v5h-4zM328 215h5v5h-5zM108 220h4v5h-4zM328 220h5v5h-5zM108 225h4v5h-4zM328 225h5v5h-5zM328 230h5v5h-5zM328 235h5v5h-5zM328 240h5v5h-5zM117 254h5v5h-5zM323 254h5v5h-5zM127 269h5v5h-5zM313 274h5v5h-5zM152 293h5v5h-5zM289 298h4v5h-4zM166 303h5v5h-5zM269 308h5v5h-5zM191 313h5v5h-5zM254 313h5v5h-5z"/>
<path fill="#26ad81" d="M186 127h5v5h-5zM235 127h10v5h-10zM254 132h5v5h-5zM157 137h4v5h-4zM264 137h5v5h-5zM274 142h5v5h-5zM142 147h5v5h-5zM137 152h5v5h-5zM289 152h4v5h-4zM132 157h5v4h-5zM293 157h5v4h-5zM127 161h5v5h-5zM298 161h5v5h-5zM303 166h5v5h-5zM117 176h5v5h-5zM313 181h5v5h-5zM112 191h5v5h-5zM318 191h5v5h-5zM323 201h5v4h-5zM323 205h5v5h-5zM112 235h5v5h-5zM112 240h5v5h-5zM117 249h5v5h-5zM323 249h5v5h-5zM122 259h5v5h-5zM318 264h5v5h-5zM132 274h5v5h-5zM137 279h5v5h-5zM308 279h5v5h-5zM142 284h5v5h-5zM303 284h5v5h-5zM147 289h5v4h-5zM298 289h5v4h-5zM293 293h5v5h-5zM161 298h5v5h-5zM171 303h5v5h-5zM279 303h5v5h-5zM181 308h5v5h-5zM196 313h9v5h-9zM249 313h5v5h-5z"/>
<path fill="#27ad81" d="M191 127h10v5h-10zM230 127h5v5h-5zM171 132h5v5h-5zM249 132h5v5h-5zM161 137h5v5h-5zM152 142h5v5h-5zM279 147h5v5h-5zM122 171h5v5h-5zM308 176h5v5h-5zM117 181h5v5h-5zM112 196h5v5h-5zM318 196h5v5h-5zM323 210h5v5h-5zM112 230h5v5h-5zM117 245h5v4h-5zM323 245h5v4h-5zM318 259h5v5h-5zM127 264h5v5h-5zM313 269h5v5h-5zM157 293h4v5h-4zM284 298h5v5h-5zM274 303h5v5h-5zM186 308h5v5h-5zM264 308h5v5h-5zM205 313h5v5h-5zM240 313h9v5h-9z"/>
<path fill="#28ae80" d="M201 127h29v5h-29zM176 132h5v5h-5zM245 132h4v5h-4zM259 137h5v5h-5zM269 142h5v5h-5zM147 147h5v5h-5zM142 152h5v5h-5zM284 152h5v5h-5zM137 157h5v4h-5zM289 157h4v4h-4zM132 161h5v5h-5zM127 166h5v5h-5zM298 166h5v5h-5zM303 171h5v5h-5zM122 176h5v5h-5zM117 186h5v5h-5zM313 186h5v5h-5zM112 201h5v4h-5zM112 205h5v5h-5zM112 210h5v5h-5zM112 215h5v5h-5zM323 215h5v5h-5zM112 220h5v5h-5zM323 220h5v5h-5zM112 225h5v5h-5zM323 225h5v5h-5zM323 230h5v5h-5zM323 235h5v5h-5zM323 240h5v5h-5zM122 254h5v5h-5zM318 254h5v5h-5zM313 264h5v5h-5zM132 269h5v5h-5zM137 274h5v5h-5zM308 274h5v5h-5zM303 279h5v5h-5zM147 284h5v5h-5zM298 284h5v5h-5zM152 289h5v4h-5zM293 289h5v4h-5zM289 293h4v5h-4zM166 298h5v5h-5zM176 303h5v5h-5zM191 308h5v5h-5zM259 308h5v5h-5zM210 313h30v5h-30z"/>
<path fill="#29af7f" d="M181 132h5v5h-5zM240 132h5v5h-5zM166 137h5v5h-5zM254 137h5v5h-5zM157 142h4v5h-4zM274 147h5v5h-5zM293 161h5v5h-5zM308 181h5v5h-5zM117 191h5v5h-5zM313 191h5v5h-5zM318 201h5v4h-5zM117 240h5v5h-5zM122 249h5v5h-5zM318 249h5v5h-5zM127 259h5v5h-5zM142 279h5v5h-5zM161 293h5v5h-5zM279 298h5v5h-5zM181 303h5v5h-5zM269 303h5v5h-5zM196 308h5v5h-5zM254 308h5v5h-5z"/>
<path fill="#2ab07f" d="M186 132h5v5h-5zM235 132h5v5h-5zM171 137h5v5h-5zM161 142h5v5h-5zM264 142h5v5h-5zM152 147h5v5h-5zM147 152h5v5h-5zM279 152h5v5h-5zM132 166h5v5h-5zM127 171h5v5h-5zM303 176h5v5h-5zM122 181h5v5h-5zM117 196h5v5h-5zM318 205h5v5h-5zM318 210h5v5h-5zM117 230h5v5h-5zM117 235h5v5h-5zM318 245h5v4h-5zM313 259h5v5h-5zM132 264h5v5h-5zM308 269h5v5h-5zM303 274h5v5h-5zM157 289h4v4h-4zM289 289h4v4h-4zM284 293h5v5h-5zM171 298h5v5h-5zM274 298h5v5h-5zM264 303h5v5h-5zM201 308h4v5h-4zM249 308h5v5h-5z"/>
<path fill="#2cb17e" d="M191 132h10v5h-10zM225 132h10v5h-10zM176 137h5v5h-5zM249 137h5v5h-5zM259 142h5v5h-5zM269 147h5v5h-5zM142 157h5v4h-5zM284 157h5v4h-5zM137 161h5v5h-5zM289 161h4v5h-4zM293 166h5v5h-5zM298 171h5v5h-5zM127 176h5v5h-5zM122 186h5v5h-5zM308 186h5v5h-5zM313 196h5v5h-5zM117 201h5v4h-5zM117 205h5v5h-5zM117 210h5v5h-5zM117 215h5v5h-5zM318 215h5v5h-5zM117 220h5v5h-5zM318 220h5v5h-5zM117 225h5v5h-5zM318 225h5v5h-5zM318 230h5v5h-5zM318 235h5v5h-5zM318 240h5v5h-5zM122 245h5v4h-5zM127 254h5v5h-5zM313 254h5v5h-5zM308 264h5v5h-5zM137 269h5v5h-5zM142 274h5v5h-5zM147 279h5v5h-5zM298 279h5v5h-5zM152 284h5v5h-5zM293 284h5v5h-5zM166 293h5v5h-5zM176 298h5v5h-5zM186 303h5v5h-5zM259 303h5v5h-5zM205 308h10v5h-10zM240 308h9v5h-9z"/>
<path fill="#2db27d" d="M201 132h24v5h-24zM181 137h5v5h-5zM245 137h4v5h-4zM166 142h5v5h-5zM157 147h4v5h-4zM274 152h5v5h-5zM132 171h5v5h-5zM303 181h5v5h-5zM122 191h5v5h-5zM308 191h5v5h-5zM313 201h5v4h-5zM122 240h5v5h-5zM127 249h5v5h-5zM313 249h5v5h-5zM132 259h5v5h-5zM303 269h5v5h-5zM161 289h5v4h-5zM279 293h5v5h-5zM269 298h5v5h-5zM191 303h5v5h-5zM254 303h5v5h-5zM215 308h25v5h-25z"/>
<path fill="#2eb37c" d="M240 137h5v5h-5zM171 142h5v5h-5zM254 142h5v5h-5zM161 147h5v5h-5zM264 147h5v5h-5zM152 152h5v5h-5zM147 157h5v4h-5zM279 157h5v4h-5zM142 161h5v5h-5zM137 166h5v5h-5zM298 176h5v5h-5zM127 181h5v5h-5zM122 196h5v5h-5zM313 205h5v5h-5zM122 235h5v5h-5zM313 245h5v4h-5zM308 259h5v5h-5zM137 264h5v5h-5zM298 274h5v5h-5zM293 279h5v5h-5zM157 284h4v5h-4zM289 284h4v5h-4zM284 289h5v4h-5zM171 293h5v5h-5zM274 293h5v5h-5zM181 298h5v5h-5zM264 298h5v5h-5zM196 303h5v5h-5z"/>
<path fill="#2fb47c" d="M186 137h10v5h-10zM235 137h5v5h-5zM284 161h5v5h-5zM289 166h4v5h-4zM293 171h5v5h-5zM132 176h5v5h-5zM127 186h5v5h-5zM303 186h5v5h-5zM308 196h5v5h-5zM122 201h5v4h-5zM122 205h5v5h-5zM313 210h5v5h-5zM313 215h5v5h-5zM122 225h5v5h-5zM122 230h5v5h-5zM313 235h5v5h-5zM313 240h5v5h-5zM127 245h5v4h-5zM132 254h5v5h-5zM308 254h5v5h-5zM303 264h5v5h-5zM142 269h5v5h-5zM147 274h5v5h-5zM152 279h5v5h-5zM201 303h4v5h-4zM245 303h9v5h-9z"/>
<path fill="#31b57b" d="M196 137h5v5h-5zM230 137h5v5h-5zM176 142h5v5h-5zM249 142h5v5h-5zM166 147h5v5h-5zM259 147h5v5h-5zM157 152h4v5h-4zM269 152h5v5h-5zM152 157h5v4h-5zM137 171h5v5h-5zM298 181h5v5h-5zM127 191h5v5h-5zM308 201h5v4h-5zM122 210h5v5h-5zM122 215h5v5h-5zM122 220h5v5h-5zM313 220h5v5h-5zM313 225h5v5h-5zM313 230h5v5h-5zM127 240h5v5h-5zM308 249h5v5h-5zM137 259h5v5h-5zM298 269h5v5h-5zM284 284h5v5h-5zM166 289h5v4h-5zM279 289h5v4h-5zM176 293h5v5h-5zM269 293h5v5h-5zM186 298h5v5h-5zM259 298h5v5h-5zM205 303h5v5h-5zM240 303h5v5h-5z"/>
<path fill="#32b67a" d="M201 137h29v5h-29zM181 142h5v5h-5zM245 142h4v5h-4zM274 157h5v4h-5zM147 161h5v5h-5zM142 166h5v5h-5zM293 176h5v5h-5zM132 181h5v5h-5zM303 191h5v5h-5zM308 205h5v5h-5zM127 235h5v5h-5zM132 249h5v5h-5zM303 259h5v5h-5zM142 264h5v5h-5zM293 274h5v5h-5zM289 279h4v5h-4zM161 284h5v5h-5zM191 298h5v5h-5zM254 298h5v5h-5zM210 303h30v5h-30z"/>
<path fill="#34b679" d="M186 142h5v5h-5zM240 142h5v5h-5zM171 147h5v5h-5zM254 147h5v5h-5zM161 152h5v5h-5zM264 152h5v5h-5zM279 161h5v5h-5zM284 166h5v5h-5zM289 171h4v5h-4zM137 176h5v5h-5zM132 186h5v5h-5zM298 186h5v5h-5zM127 196h5v5h-5zM303 196h5v5h-5zM127 201h5v4h-5zM308 210h5v5h-5zM127 230h5v5h-5zM308 240h5v5h-5zM132 245h5v4h-5zM308 245h5v4h-5zM137 254h5v5h-5zM303 254h5v5h-5zM298 264h5v5h-5zM147 269h5v5h-5zM152 274h5v5h-5zM157 279h4v5h-4zM171 289h5v4h-5zM274 289h5v4h-5zM181 293h5v5h-5zM264 293h5v5h-5zM196 298h5v5h-5zM249 298h5v5h-5z"/>
<path fill="#35b779" d="M191 142h5v5h-5zM235 142h5v5h-5zM157 157h4v4h-4zM269 157h5v4h-5zM152 161h5v5h-5zM147 166h5v5h-5zM142 171h5v5h-5zM127 205h5v5h-5zM127 210h5v5h-5zM127 215h5v5h-5zM308 215h5v5h-5zM127 220h5v5h-5zM308 220h5v5h-5zM127 225h5v5h-5zM308 225h5v5h-5zM308 230h5v5h-5zM308 235h5v5h-5zM293 269h5v5h-5zM289 274h4v5h-4zM284 279h5v5h-5zM166 284h5v5h-5zM279 284h5v5h-5zM201 298h4v5h-4zM245 298h4v5h-4z"/>
<path fill="#37b878" d="M196 142h5v5h-5zM230 142h5v5h-5zM176 147h5v5h-5zM249 147h5v5h-5zM166 152h5v5h-5zM259 152h5v5h-5zM274 161h5v5h-5zM289 176h4v5h-4zM137 181h5v5h-5zM293 181h5v5h-5zM132 191h5v5h-5zM298 191h5v5h-5zM303 201h5v4h-5zM132 240h5v5h-5zM137 249h5v5h-5zM303 249h5v5h-5zM142 259h5v5h-5zM298 259h5v5h-5zM147 264h5v5h-5zM161 279h5v5h-5zM176 289h5v4h-5zM269 289h5v4h-5zM186 293h5v5h-5zM259 293h5v5h-5zM205 298h5v5h-5zM240 298h5v5h-5z"/>
<path fill="#38b977" d="M201 142h9v5h-9zM220 142h10v5h-10zM181 147h5v5h-5zM245 147h4v5h-4zM161 157h5v4h-5zM279 166h5v5h-5zM284 171h5v5h-5zM142 176h5v5h-5zM132 196h5v5h-5zM303 205h5v5h-5zM132 235h5v5h-5zM303 245h5v4h-5zM293 264h5v5h-5zM152 269h5v5h-5zM157 274h4v5h-4zM274 284h5v5h-5zM191 293h5v5h-5zM254 293h5v5h-5zM210 298h10v5h-10zM230 298h10v5h-10z"/>
<path fill="#3aba76" d="M210 142h10v5h-10zM171 152h5v5h-5zM254 152h5v5h-5zM264 157h5v4h-5zM157 161h4v5h-4zM152 166h5v5h-5zM147 171h5v5h-5zM137 186h5v5h-5zM293 186h5v5h-5zM298 196h5v5h-5zM132 201h5v4h-5zM303 210h5v5h-5zM132 230h5v5h-5zM303 240h5v5h-5zM137 245h5v4h-5zM142 254h5v5h-5zM298 254h5v5h-5zM289 269h4v5h-4zM284 274h5v5h-5zM279 279h5v5h-5zM171 284h5v5h-5zM181 289h5v4h-5zM264 289h5v4h-5zM220 298h10v5h-10z"/>
<path fill="#3bbb75" d="M186 147h5v5h-5zM240 147h5v5h-5zM166 157h5v4h-5zM269 161h5v5h-5zM142 181h5v5h-5zM289 181h4v5h-4zM137 191h5v5h-5zM132 205h5v5h-5zM132 210h5v5h-5zM132 215h5v5h-5zM303 215h5v5h-5zM132 220h5v5h-5zM303 220h5v5h-5zM132 225h5v5h-5zM303 225h5v5h-5zM303 230h5v5h-5zM303 235h5v5h-5zM298 249h5v5h-5zM147 259h5v5h-5zM293 259h5v5h-5zM166 279h5v5h-5zM269 284h5v5h-5zM196 293h5v5h-5zM249 293h5v5h-5z"/>
<path fill="#3dbc74" d="M191 147h5v5h-5zM235 147h5v5h-5zM176 152h5v5h-5zM249 152h5v5h-5zM259 157h5v4h-5zM161 161h5v5h-5zM274 166h5v5h-5zM279 171h5v5h-5zM147 176h5v5h-5zM284 176h5v5h-5zM293 191h5v5h-5zM298 201h5v4h-5zM137 240h5v5h-5zM142 249h5v5h-5zM152 264h5v5h-5zM289 264h4v5h-4zM157 269h4v5h-4zM161 274h5v5h-5zM274 279h5v5h-5zM176 284h5v5h-5zM186 289h5v4h-5zM259 289h5v4h-5zM201 293h4v5h-4zM245 293h4v5h-4z"/>
<path fill="#3fbc73" d="M196 147h5v5h-5zM230 147h5v5h-5zM181 152h5v5h-5zM157 166h4v5h-4zM152 171h5v5h-5zM142 186h5v5h-5zM289 186h4v5h-4zM137 196h5v5h-5zM298 205h5v5h-5zM137 235h5v5h-5zM298 245h5v4h-5zM147 254h5v5h-5zM293 254h5v5h-5zM284 269h5v5h-5zM279 274h5v5h-5zM254 289h5v4h-5zM205 293h5v5h-5zM240 293h5v5h-5z"/>
<path fill="#40bd72" d="M201 147h29v5h-29zM245 152h4v5h-4zM171 157h5v4h-5zM254 157h5v4h-5zM264 161h5v5h-5zM284 181h5v5h-5zM293 196h5v5h-5zM137 201h5v4h-5zM137 205h5v5h-5zM298 210h5v5h-5zM137 230h5v5h-5zM298 235h5v5h-5zM298 240h5v5h-5zM142 245h5v4h-5zM152 259h5v5h-5zM171 279h5v5h-5zM181 284h5v5h-5zM264 284h5v5h-5zM191 289h5v4h-5zM210 293h30v5h-30z"/>
<path fill="#42be71" d="M186 152h5v5h-5zM240 152h5v5h-5zM166 161h5v5h-5zM269 166h5v5h-5zM274 171h5v5h-5zM279 176h5v5h-5zM147 181h5v5h-5zM142 191h5v5h-5zM293 201h5v4h-5zM137 210h5v5h-5zM137 215h5v5h-5zM298 215h5v5h-5zM137 220h5v5h-5zM298 220h5v5h-5zM137 225h5v5h-5zM298 225h5v5h-5zM298 230h5v5h-5zM142 240h5v5h-5zM293 249h5v5h-5zM289 259h4v5h-4zM157 264h4v5h-4zM161 269h5v5h-5zM166 274h5v5h-5zM269 279h5v5h-5zM196 289h5v4h-5zM249 289h5v4h-5z"/>
<path fill="#44bf70" d="M191 152h5v5h-5zM176 157h5v4h-5zM249 157h5v4h-5zM259 161h5v5h-5zM161 166h5v5h-5zM157 171h4v5h-4zM152 176h5v5h-5zM289 191h4v5h-4zM142 196h5v5h-5zM293 245h5v4h-5zM147 249h5v5h-5zM284 264h5v5h-5zM279 269h5v5h-5zM274 274h5v5h-5zM176 279h5v5h-5zM186 284h5v5h-5zM259 284h5v5h-5zM245 289h4v4h-4z"/>
<path fill="#46c06f" d="M196 152h5v5h-5zM235 152h5v5h-5zM171 161h5v5h-5zM147 186h5v5h-5zM284 186h5v5h-5zM293 205h5v5h-5zM142 235h5v5h-5zM152 254h5v5h-5zM289 254h4v5h-4zM264 279h5v5h-5zM201 289h4v4h-4zM240 289h5v4h-5z"/>
<path fill="#48c16e" d="M201 152h4v5h-4zM230 152h5v5h-5zM181 157h5v4h-5zM245 157h4v4h-4zM264 166h5v5h-5zM269 171h5v5h-5zM152 181h5v5h-5zM279 181h5v5h-5zM289 196h4v5h-4zM142 201h5v4h-5zM293 210h5v5h-5zM142 230h5v5h-5zM293 240h5v5h-5zM147 245h5v4h-5zM157 259h4v5h-4zM284 259h5v5h-5zM166 269h5v5h-5zM171 274h5v5h-5zM191 284h5v5h-5zM254 284h5v5h-5zM205 289h5v4h-5zM235 289h5v4h-5z"/>
<path fill="#4ac16d" d="M205 152h25v5h-25zM186 157h5v4h-5zM254 161h5v5h-5zM166 166h5v5h-5zM161 171h5v5h-5zM157 176h4v5h-4zM274 176h5v5h-5zM147 191h5v5h-5zM142 205h5v5h-5zM142 210h5v5h-5zM142 215h5v5h-5zM293 215h5v5h-5zM142 220h5v5h-5zM293 220h5v5h-5zM142 225h5v5h-5zM293 225h5v5h-5zM293 230h5v5h-5zM293 235h5v5h-5zM289 249h4v5h-4zM161 264h5v5h-5zM279 264h5v5h-5zM274 269h5v5h-5zM269 274h5v5h-5zM181 279h5v5h-5zM249 284h5v5h-5zM210 289h25v4h-25z"/>
<path fill="#4cc26c" d="M240 157h5v4h-5zM176 161h5v5h-5zM259 166h5v5h-5zM284 191h5v5h-5zM147 196h5v5h-5zM289 201h4v4h-4zM147 240h5v5h-5zM289 245h4v4h-4zM152 249h5v5h-5zM176 274h5v5h-5zM259 279h5v5h-5zM196 284h5v5h-5z"/>
<path fill="#4ec36b" d="M191 157h5v4h-5zM249 161h5v5h-5zM171 166h5v5h-5zM152 186h5v5h-5zM279 186h5v5h-5zM289 205h4v5h-4zM147 235h5v5h-5zM157 254h4v5h-4zM284 254h5v5h-5zM264 274h5v5h-5zM186 279h5v5h-5zM245 284h4v5h-4z"/>
<path fill="#50c46a" d="M196 157h5v4h-5zM235 157h5v4h-5zM181 161h5v5h-5zM166 171h5v5h-5zM264 171h5v5h-5zM161 176h5v5h-5zM269 176h5v5h-5zM157 181h4v5h-4zM274 181h5v5h-5zM284 196h5v5h-5zM147 201h5v4h-5zM289 210h4v5h-4zM147 230h5v5h-5zM289 240h4v5h-4zM152 245h5v4h-5zM161 259h5v5h-5zM279 259h5v5h-5zM166 264h5v5h-5zM274 264h5v5h-5zM171 269h5v5h-5zM269 269h5v5h-5zM254 279h5v5h-5zM201 284h4v5h-4zM240 284h5v5h-5z"/>
<path fill="#52c569" d="M201 157h4v4h-4zM230 157h5v4h-5zM245 161h4v5h-4zM254 166h5v5h-5zM152 191h5v5h-5zM147 205h5v5h-5zM147 210h5v5h-5zM289 215h4v5h-4zM147 225h5v5h-5zM289 230h4v5h-4zM289 235h4v5h-4zM284 249h5v5h-5zM181 274h5v5h-5zM191 279h5v5h-5zM205 284h5v5h-5zM235 284h5v5h-5z"/>
<path fill="#54c568" d="M205 157h5v4h-5zM220 157h10v4h-10zM186 161h5v5h-5zM176 166h5v5h-5zM157 186h4v5h-4zM279 191h5v5h-5zM284 201h5v4h-5zM147 215h5v5h-5zM147 220h5v5h-5zM289 220h4v5h-4zM289 225h4v5h-4zM152 240h5v5h-5zM157 249h4v5h-4zM279 254h5v5h-5zM259 274h5v5h-5zM249 279h5v5h-5zM210 284h10v5h-10zM230 284h5v5h-5z"/>
<path fill="#56c667" d="M210 157h10v4h-10zM240 161h5v5h-5zM171 171h5v5h-5zM259 171h5v5h-5zM161 181h5v5h-5zM274 186h5v5h-5zM152 196h5v5h-5zM284 245h5v4h-5zM161 254h5v5h-5zM274 259h5v5h-5zM176 269h5v5h-5zM264 269h5v5h-5zM196 279h5v5h-5zM220 284h10v5h-10z"/>
<path fill="#58c765" d="M191 161h5v5h-5zM181 166h5v5h-5zM249 166h5v5h-5zM166 176h5v5h-5zM264 176h5v5h-5zM269 181h5v5h-5zM279 196h5v5h-5zM152 201h5v4h-5zM284 205h5v5h-5zM152 235h5v5h-5zM284 240h5v5h-5zM157 245h4v4h-4zM166 259h5v5h-5zM171 264h5v5h-5zM269 264h5v5h-5zM186 274h5v5h-5zM254 274h5v5h-5zM245 279h4v5h-4z"/>
<path fill="#5ac864" d="M196 161h5v5h-5zM235 161h5v5h-5zM157 191h4v5h-4zM152 205h5v5h-5zM284 210h5v5h-5zM152 230h5v5h-5zM284 235h5v5h-5zM279 249h5v5h-5zM201 279h4v5h-4zM240 279h5v5h-5z"/>
<path fill="#5cc863" d="M230 161h5v5h-5zM245 166h4v5h-4zM176 171h5v5h-5zM254 171h5v5h-5zM161 186h5v5h-5zM274 191h5v5h-5zM279 201h5v4h-5zM152 210h5v5h-5zM152 215h5v5h-5zM284 215h5v5h-5zM152 220h5v5h-5zM284 220h5v5h-5zM152 225h5v5h-5zM284 225h5v5h-5zM284 230h5v5h-5zM157 240h4v5h-4zM161 249h5v5h-5zM274 254h5v5h-5zM181 269h5v5h-5zM259 269h5v5h-5zM191 274h5v5h-5zM205 279h5v5h-5z"/>
<path fill="#5ec962" d="M201 161h4v5h-4zM225 161h5v5h-5zM186 166h5v5h-5zM171 176h5v5h-5zM259 176h5v5h-5zM166 181h5v5h-5zM269 186h5v5h-5zM157 196h4v5h-4zM279 245h5v4h-5zM166 254h5v5h-5zM269 259h5v5h-5zM176 264h5v5h-5zM264 264h5v5h-5zM249 274h5v5h-5zM210 279h5v5h-5zM235 279h5v5h-5z"/>
<path fill="#60ca60" d="M205 161h20v5h-20zM264 181h5v5h-5zM279 205h5v5h-5zM157 235h4v5h-4zM171 259h5v5h-5zM215 279h20v5h-20z"/>
<path fill="#63cb5f" d="M191 166h5v5h-5zM240 166h5v5h-5zM181 171h5v5h-5zM249 171h5v5h-5zM161 191h5v5h-5zM274 196h5v5h-5zM157 201h4v4h-4zM279 240h5v5h-5zM161 245h5v4h-5zM274 249h5v5h-5zM186 269h5v5h-5zM254 269h5v5h-5zM196 274h5v5h-5zM245 274h4v5h-4z"/>
<path fill="#65cb5e" d="M235 166h5v5h-5zM176 176h5v5h-5zM166 186h5v5h-5zM269 191h5v5h-5zM157 205h4v5h-4zM279 210h5v5h-5zM157 230h4v5h-4zM279 235h5v5h-5zM166 249h5v5h-5zM269 254h5v5h-5zM259 264h5v5h-5zM201 274h4v5h-4z"/>
<path fill="#67cc5c" d="M196 166h5v5h-5zM254 176h5v5h-5zM171 181h5v5h-5zM259 181h5v5h-5zM264 186h5v5h-5zM161 196h5v5h-5zM274 201h5v4h-5zM157 210h4v5h-4zM157 215h4v5h-4zM279 215h5v5h-5zM157 220h4v5h-4zM279 220h5v5h-5zM157 225h4v5h-4zM279 225h5v5h-5zM279 230h5v5h-5zM161 240h5v5h-5zM274 245h5v4h-5zM171 254h5v5h-5zM176 259h5v5h-5zM264 259h5v5h-5zM181 264h5v5h-5zM240 274h5v5h-5z"/>
<path fill="#69cd5b" d="M201 166h4v5h-4zM230 166h5v5h-5zM186 171h5v5h-5zM245 171h4v5h-4zM191 269h5v5h-5zM249 269h5v5h-5zM205 274h5v5h-5zM235 274h5v5h-5z"/>
<path fill="#6ccd5a" d="M205 166h5v5h-5zM225 166h5v5h-5zM181 176h5v5h-5zM166 191h5v5h-5zM269 196h5v5h-5zM161 201h5v4h-5zM274 205h5v5h-5zM161 235h5v5h-5zM274 240h5v5h-5zM166 245h5v4h-5zM269 249h5v5h-5zM254 264h5v5h-5zM210 274h5v5h-5zM230 274h5v5h-5z"/>
<path fill="#6ece58" d="M210 166h15v5h-15zM191 171h5v5h-5zM240 171h5v5h-5zM249 176h5v5h-5zM176 181h5v5h-5zM171 186h5v5h-5zM264 254h5v5h-5zM259 259h5v5h-5zM186 264h5v5h-5zM196 269h5v5h-5zM245 269h4v5h-4zM215 274h15v5h-15z"/>
<path fill="#70cf57" d="M254 181h5v5h-5zM264 191h5v5h-5zM161 205h5v5h-5zM274 210h5v5h-5zM161 230h5v5h-5zM274 235h5v5h-5zM171 249h5v5h-5zM181 259h5v5h-5z"/>
<path fill="#73d056" d="M196 171h5v5h-5zM235 171h5v5h-5zM186 176h5v5h-5zM259 186h5v5h-5zM166 196h5v5h-5zM269 201h5v4h-5zM161 210h5v5h-5zM161 215h5v5h-5zM274 215h5v5h-5zM161 220h5v5h-5zM274 220h5v5h-5zM161 225h5v5h-5zM274 225h5v5h-5zM274 230h5v5h-5zM166 240h5v5h-5zM269 245h5v4h-5zM176 254h5v5h-5zM249 264h5v5h-5zM201 269h4v5h-4zM240 269h5v5h-5z"/>
<path fill="#75d054" d="M245 176h4v5h-4zM191 264h5v5h-5z"/>
<path fill="#77d153" d="M201 171h4v5h-4zM230 171h5v5h-5zM181 181h5v5h-5zM176 186h5v5h-5zM171 191h5v5h-5zM264 196h5v5h-5zM166 201h5v4h-5zM269 205h5v5h-5zM166 235h5v5h-5zM269 240h5v5h-5zM171 245h5v4h-5zM264 249h5v5h-5zM259 254h5v5h-5zM254 259h5v5h-5zM205 269h5v5h-5zM235 269h5v5h-5z"/>
<path fill="#7ad151" d="M205 171h5v5h-5zM225 171h5v5h-5zM191 176h5v5h-5zM249 181h5v5h-5zM259 191h5v5h-5zM176 249h5v5h-5zM186 259h5v5h-5zM245 264h4v5h-4zM210 269h5v5h-5zM230 269h5v5h-5z"/>
<path fill="#7cd250" d="M210 171h15v5h-15zM240 176h5v5h-5zM254 186h5v5h-5zM171 196h5v5h-5zM166 205h5v5h-5zM269 210h5v5h-5zM166 230h5v5h-5zM269 235h5v5h-5zM264 245h5v4h-5zM181 254h5v5h-5zM196 264h5v5h-5zM215 269h15v5h-15z"/>
<path fill="#7fd34e" d="M186 181h5v5h-5zM264 201h5v4h-5zM166 210h5v5h-5zM269 215h5v5h-5zM166 225h5v5h-5zM269 230h5v5h-5zM171 240h5v5h-5zM249 259h5v5h-5z"/>
<path fill="#81d34d" d="M196 176h5v5h-5zM235 176h5v5h-5zM245 181h4v5h-4zM181 186h5v5h-5zM176 191h5v5h-5zM166 215h5v5h-5zM166 220h5v5h-5zM269 220h5v5h-5zM269 225h5v5h-5zM259 249h5v5h-5zM254 254h5v5h-5zM191 259h5v5h-5zM201 264h4v5h-4zM240 264h5v5h-5z"/>
<path fill="#84d44b" d="M259 196h5v5h-5zM171 201h5v4h-5zM264 240h5v5h-5zM176 245h5v4h-5z"/>
<path fill="#86d549" d="M201 176h4v5h-4zM230 176h5v5h-5zM191 181h5v5h-5zM249 186h5v5h-5zM254 191h5v5h-5zM264 205h5v5h-5zM171 235h5v5h-5zM181 249h5v5h-5zM186 254h5v5h-5zM245 259h4v5h-4zM205 264h5v5h-5zM235 264h5v5h-5z"/>
<path fill="#89d548" d="M205 176h5v5h-5zM240 181h5v5h-5zM176 196h5v5h-5zM171 205h5v5h-5zM264 235h5v5h-5zM259 245h5v4h-5zM196 259h5v5h-5zM230 264h5v5h-5z"/>
<path fill="#8bd646" d="M210 176h5v5h-5zM220 176h10v5h-10zM186 186h5v5h-5zM181 191h5v5h-5zM259 201h5v4h-5zM264 210h5v5h-5zM171 230h5v5h-5zM176 240h5v5h-5zM254 249h5v5h-5zM249 254h5v5h-5zM210 264h10v5h-10zM225 264h5v5h-5z"/>
<path fill="#8ed645" d="M215 176h5v5h-5zM196 181h5v5h-5zM171 210h5v5h-5zM171 215h5v5h-5zM264 215h5v5h-5zM171 220h5v5h-5zM264 220h5v5h-5zM171 225h5v5h-5zM264 225h5v5h-5zM264 230h5v5h-5zM240 259h5v5h-5zM220 264h5v5h-5z"/>
<path fill="#90d743" d="M235 181h5v5h-5zM245 186h4v5h-4zM254 196h5v5h-5zM176 201h5v4h-5zM259 240h5v5h-5zM181 245h5v4h-5zM191 254h5v5h-5zM201 259h4v5h-4z"/>
<path fill="#93d741" d="M249 191h5v5h-5zM259 205h5v5h-5zM176 235h5v5h-5zM186 249h5v5h-5z"/>
<path fill="#95d840" d="M201 181h4v5h-4zM230 181h5v5h-5zM191 186h5v5h-5zM181 196h5v5h-5zM254 245h5v4h-5zM245 254h4v5h-4zM205 259h5v5h-5zM235 259h5v5h-5z"/>
<path fill="#98d83e" d="M240 186h5v5h-5zM186 191h5v5h-5zM176 205h5v5h-5zM259 210h5v5h-5zM176 230h5v5h-5zM259 235h5v5h-5zM249 249h5v5h-5zM196 254h5v5h-5z"/>
<path fill="#9bd93c" d="M205 181h5v5h-5zM225 181h5v5h-5zM254 201h5v4h-5zM176 210h5v5h-5zM259 230h5v5h-5zM181 240h5v5h-5zM210 259h5v5h-5zM230 259h5v5h-5z"/>
<path fill="#9dd93b" d="M210 181h15v5h-15zM196 186h5v5h-5zM245 191h4v5h-4zM249 196h5v5h-5zM181 201h5v4h-5zM176 215h5v5h-5zM259 215h5v5h-5zM176 220h5v5h-5zM259 220h5v5h-5zM176 225h5v5h-5zM259 225h5v5h-5zM254 240h5v5h-5zM186 245h5v4h-5zM191 249h5v5h-5zM240 254h5v5h-5zM215 259h15v5h-15z"/>
<path fill="#a0da39" d="M235 186h5v5h-5zM201 254h4v5h-4z"/>
<path fill="#a2da37" d="M191 191h5v5h-5zM186 196h5v5h-5zM254 205h5v5h-5zM181 235h5v5h-5zM249 245h5v4h-5zM245 249h4v5h-4z"/>
<path fill="#a5db36" d="M201 186h4v5h-4zM181 205h5v5h-5zM254 235h5v5h-5zM235 254h5v5h-5z"/>
<path fill="#a8db34" d="M230 186h5v5h-5zM240 191h5v5h-5zM249 201h5v4h-5zM254 210h5v5h-5zM181 230h5v5h-5zM186 240h5v5h-5zM196 249h5v5h-5zM205 254h5v5h-5z"/>
<path fill="#aadc32" d="M205 186h5v5h-5zM245 196h4v5h-4zM181 210h5v5h-5zM254 230h5v5h-5zM191 245h5v4h-5zM230 254h5v5h-5z"/>
<path fill="#addc30" d="M225 186h5v5h-5zM196 191h5v5h-5zM186 201h5v4h-5zM181 215h5v5h-5zM254 215h5v5h-5zM181 225h5v5h-5zM254 225h5v5h-5zM249 240h5v5h-5zM240 249h5v5h-5zM210 254h5v5h-5z"/>
<path fill="#b0dd2f" d="M210 186h15v5h-15zM191 196h5v5h-5zM181 220h5v5h-5zM254 220h5v5h-5zM245 245h4v4h-4zM215 254h15v5h-15z"/>
<path fill="#b2dd2d" d="M235 191h5v5h-5zM249 205h5v5h-5zM186 235h5v5h-5zM201 249h4v5h-4z"/>
<path fill="#b5de2b" d="M201 191h4v5h-4zM186 205h5v5h-5zM249 235h5v5h-5zM235 249h5v5h-5z"/>
<path fill="#b8de29" d="M240 196h5v5h-5zM245 201h4v4h-4zM191 240h5v5h-5zM196 245h5v4h-5z"/>
<path fill="#bade28" d="M230 191h5v5h-5zM196 196h5v5h-5zM191 201h5v4h-5zM186 210h5v5h-5zM249 210h5v5h-5zM186 230h5v5h-5zM249 230h5v5h-5zM245 240h4v5h-4zM240 245h5v4h-5zM205 249h5v5h-5z"/>
<path fill="#bddf26" d="M205 191h5v5h-5zM249 215h5v5h-5zM186 225h5v5h-5zM230 249h5v5h-5z"/>
<path fill="#c0df25" d="M225 191h5v5h-5zM186 215h5v5h-5zM186 220h5v5h-5zM249 220h5v5h-5zM249 225h5v5h-5zM210 249h5v5h-5z"/>
<path fill="#c2df23" d="M210 191h5v5h-5zM235 196h5v5h-5zM245 205h4v5h-4zM191 235h5v5h-5zM201 245h4v4h-4zM225 249h5v5h-5z"/>
<path fill="#c5e021" d="M215 191h10v5h-10zM201 196h4v5h-4zM240 201h5v4h-5zM191 205h5v5h-5zM245 235h4v5h-4zM196 240h5v5h-5zM235 245h5v4h-5zM215 249h10v5h-10z"/>
<path fill="#c8e020" d="M196 201h5v4h-5zM240 240h5v5h-5z"/>
<path fill="#cae11f" d="M245 210h4v5h-4zM191 230h5v5h-5z"/>
<path fill="#cde11d" d="M205 196h5v5h-5zM230 196h5v5h-5zM191 210h5v5h-5zM245 230h4v5h-4zM205 245h5v4h-5zM230 245h5v4h-5z"/>
<path fill="#d0e11c" d="M191 215h5v5h-5zM245 215h4v5h-4zM191 225h5v5h-5zM245 225h4v5h-4z"/>
<path fill="#d2e21b" d="M235 201h5v4h-5zM196 205h5v5h-5zM240 205h5v5h-5zM191 220h5v5h-5zM245 220h4v5h-4zM196 235h5v5h-5zM240 235h5v5h-5zM201 240h4v5h-4z"/>
<path fill="#d5e21a" d="M210 196h5v5h-5zM225 196h5v5h-5zM201 201h4v4h-4zM235 240h5v5h-5zM210 245h5v4h-5zM225 245h5v4h-5z"/>
<path fill="#d8e219" d="M215 196h10v5h-10zM215 245h10v4h-10z"/>
<path fill="#dde318" d="M196 210h5v5h-5zM240 210h5v5h-5zM196 230h5v5h-5zM240 230h5v5h-5z"/>
<path fill="#dfe318" d="M205 201h5v4h-5zM230 201h5v4h-5zM205 240h5v5h-5zM230 240h5v5h-5z"/>
<path fill="#e2e418" d="M201 205h4v5h-4zM235 205h5v5h-5zM196 215h5v5h-5zM240 215h5v5h-5zM196 225h5v5h-5zM240 225h5v5h-5zM201 235h4v5h-4zM235 235h5v5h-5z"/>
<path fill="#e5e419" d="M196 220h5v5h-5zM240 220h5v5h-5z"/>
<path fill="#e7e419" d="M210 201h5v4h-5zM225 201h5v4h-5zM210 240h5v5h-5zM225 240h5v5h-5z"/>
<path fill="#ece51b" d="M215 201h10v4h-10zM215 240h10v5h-10z"/>
<path fill="#efe51c" d="M201 210h4v5h-4zM235 210h5v5h-5zM201 230h4v5h-4zM235 230h5v5h-5z"/>
<path fill="#f1e51d" d="M205 205h5v5h-5zM230 205h5v5h-5zM205 235h5v5h-5zM230 235h5v5h-5z"/>
<path fill="#f6e620" d="M201 215h4v5h-4zM235 215h5v5h-5zM201 225h4v5h-4zM235 225h5v5h-5z"/>
<path fill="#fbe723" d="M201 220h4v5h-4zM235 220h5v5h-5z"/>
<path fill="#fde725" d="M210 205h20v5h-20zM205 210h30v5h-30zM205 215h30v5h-30zM205 220h30v5h-30zM205 225h30v5h-30zM205 230h30v5h-30zM210 235h20v5h-20z"/>
</g>
<rect x="120.5" y="45.5" width="450" height="450" fill="none" stroke="#000" stroke-width="1.11"/>
<path d="M164.5 495.5v4.9M243.5 495.5v4.9M322.5 495.5v4.9M402.5 495.5v4.9M481.5 495.5v4.9M560.5 495.5v4.9M163.5 45.5v-4.9M242.5 45.5v-4.9M322.5 45.5v-4.9M401.5 45.5v-4.9M480.5 45.5v-4.9M559.5 45.5v-4.9M120.5 60.5h-4.9M120.5 168.5h-4.9M120.5 276.5h-4.9M120.5 384.5h-4.9M120.5 492.5h-4.9M570.5 59.5h4.9M570.5 167.5h4.9M570.5 275.5h4.9M570.5 383.5h4.9M570.5 491.5h4.9" stroke="#000" stroke-width="1.11" fill="none"/>
<g font-size="13.89">
<text x="164.2" y="514.6" text-anchor="middle" letter-spacing="-0.35">15<tspan class="sup" dx="0.75" dy="-4.5">h</tspan><tspan dx="-0.5" dy="4.5">34</tspan><tspan class="sup" dx="0.75" dy="-4.5">m</tspan><tspan dx="-0.5" dy="4.5">00.0</tspan><tspan class="sup" dx="0.75" dy="-4.5">s</tspan></text>
<text x="243.2" y="514.6" text-anchor="middle" letter-spacing="-0.35">33<tspan class="sup" dx="0.75" dy="-4.5">m</tspan><tspan dx="-0.5" dy="4.5">59.5</tspan><tspan class="sup" dx="0.75" dy="-4.5">s</tspan></text>
<text x="322.2" y="514.6" text-anchor="middle" letter-spacing="-0.35">59.0<tspan class="sup" dx="0.75" dy="-4.5">s</tspan></text>
<text x="402.2" y="514.6" text-anchor="middle" letter-spacing="-0.35">58.5<tspan class="sup" dx="0.75" dy="-4.5">s</tspan></text>
<text x="481.2" y="514.6" text-anchor="middle" letter-spacing="-0.35">58.0<tspan class="sup" dx="0.75" dy="-4.5">s</tspan></text>
<text x="560.2" y="514.6" text-anchor="middle" letter-spacing="-0.35">57.5<tspan class="sup" dx="0.75" dy="-4.5">s</tspan></text>
<text x="109.24" y="63.8" text-anchor="end" letter-spacing="-0.11">12°04'10"</text>
<text x="109.65" y="171.8" text-anchor="end" letter-spacing="-0.3">00"</text>
<text x="110.05" y="279.8" text-anchor="end" letter-spacing="-0.2">03'50"</text>
<text x="109.55" y="387.8" text-anchor="end" letter-spacing="-0.3">40"</text>
<text x="108.85" y="495.8" text-anchor="end" letter-spacing="-0.3">30"</text>
</g>
<text x="345" y="546.7" font-size="22.22" text-anchor="middle">RA (deg)</text>
<text transform="translate(23.3 270) rotate(-90)" font-size="22.22" text-anchor="middle">DEC (deg)</text>
</svg>
</body></html>
